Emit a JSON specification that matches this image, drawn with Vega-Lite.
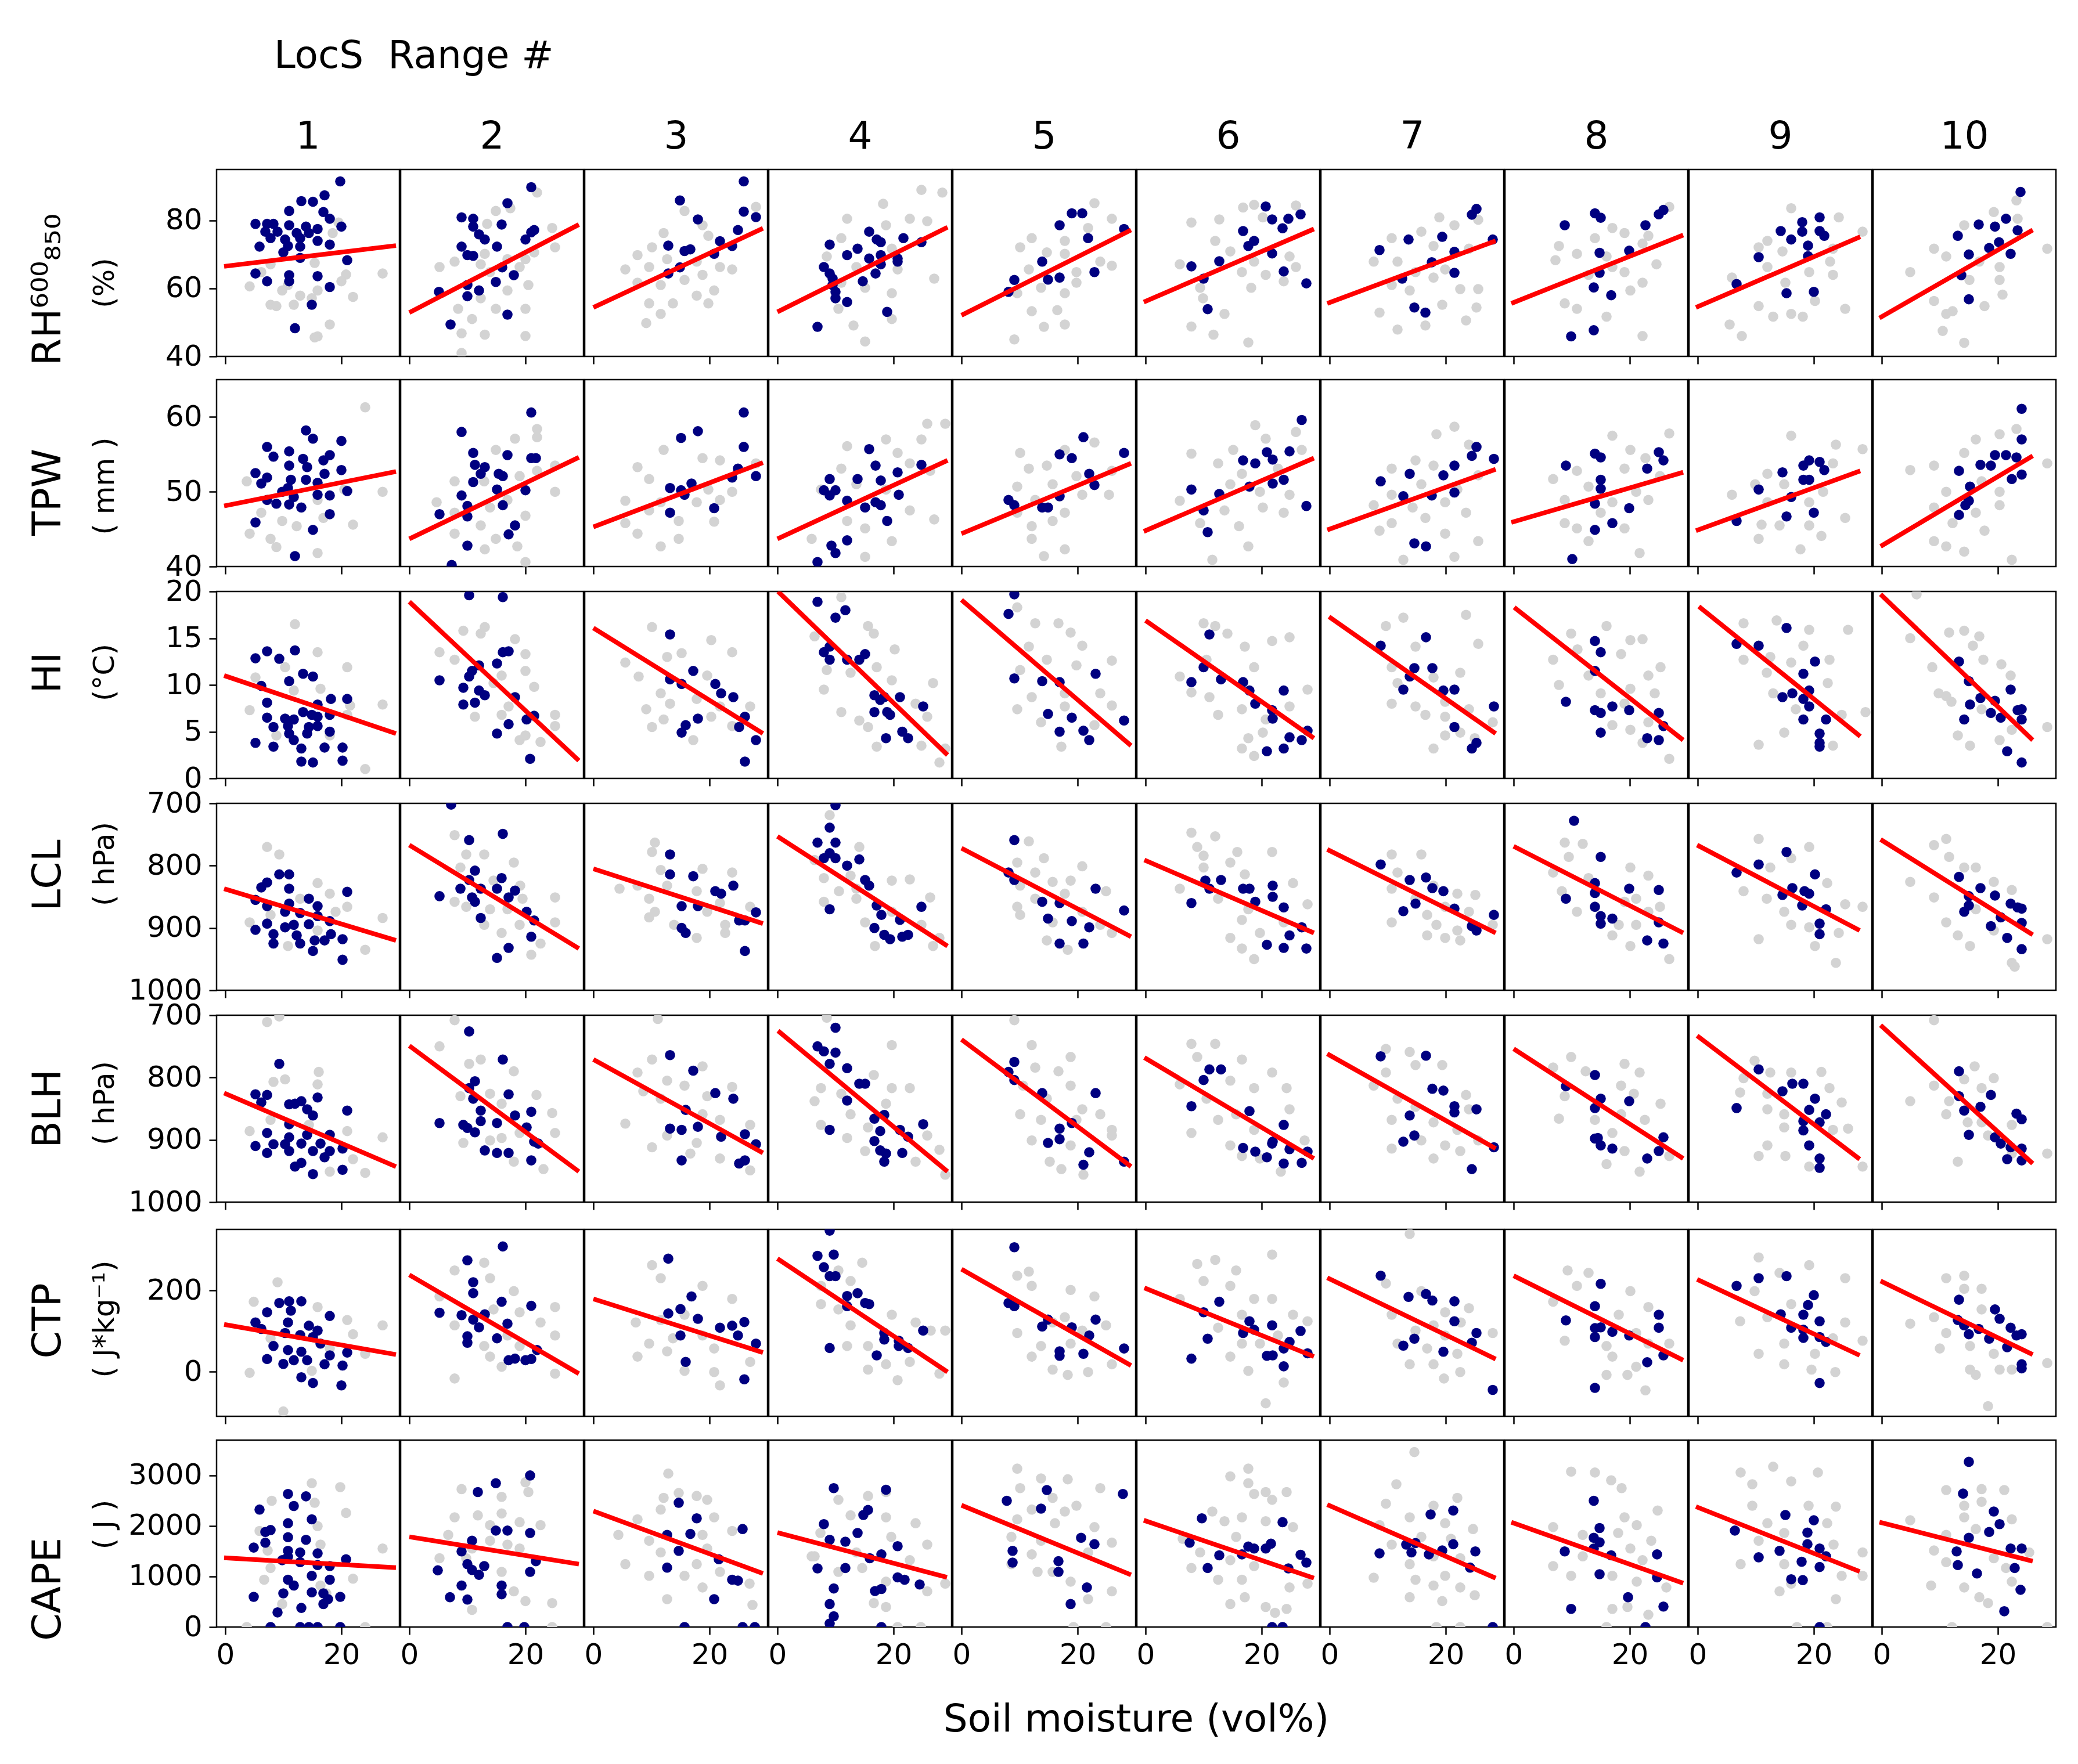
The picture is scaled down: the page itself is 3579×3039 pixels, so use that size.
{
"$schema":"https://vega.github.io/schema/vega-lite/v6.json",
"background":"white",
"padding":{"left":50,"top":64,"right":30,"bottom":30},
"title":{"text":"LocS\u00a0 Range #","anchor":"start","fontSize":66,"fontWeight":"normal","font":"DejaVu Sans","color":"black","dx":422,"offset":72},
"config":{
"font":"DejaVu Sans",
"view":{"stroke":"black","strokeWidth":2.5},
"axis":{"grid":false,"domain":false,"tickColor":"black","tickWidth":2.5,"tickSize":13,"labelFontSize":50,"labelColor":"black","labelPadding":10,"labelFont":"DejaVu Sans","titleFont":"DejaVu Sans","titleFontWeight":"normal","titleColor":"black","titleFontSize":50},
"axisY":{"titleAngle":-90,"titleBaseline":"alphabetic","titleAlign":"center","titleX":-178,"labelPadding":12},
"header":{"labelFontSize":66,"labelColor":"black","labelFont":"DejaVu Sans","titleFont":"DejaVu Sans","titleFontSize":66,"titleFontWeight":"normal","titleColor":"black"},
"title":{"fontWeight":"normal","color":"black","font":"DejaVu Sans"},
"point":{"filled":true,"size":310,"opacity":1},
"text":{"color":"#ff0000","fontSize":52,"align":"center","baseline":"middle","font":"DejaVu Sans"},
"line":{"color":"#ff0000","strokeWidth":8}
},
"spacing":13,
"datasets":{
"d1":[
{"c":1,"k":0,"x":4.2,"y":60.6},{"c":1,"k":0,"x":7.8,"y":55.2},{"c":1,"k":0,"x":8.8,"y":54.8},{"c":1,"k":0,"x":11.8,"y":55.2},{"c":1,"k":0,"x":14.9,"y":57.1},{"c":1,"k":0,"x":18,"y":49.4},{"c":1,"k":0,"x":15.9,"y":45.9},{"c":1,"k":0,"x":15.4,"y":45.6},{"c":1,"k":0,"x":22,"y":57.5},{"c":1,"k":0,"x":27.1,"y":64.4},{"c":1,"k":0,"x":20.8,"y":64.1},{"c":1,"k":0,"x":20,"y":62.1},{"c":1,"k":0,"x":10.8,"y":61},{"c":1,"k":0,"x":15.9,"y":59.4},{"c":1,"k":0,"x":7.8,"y":67.1},{"c":1,"k":0,"x":15.4,"y":67.5},{"c":1,"k":0,"x":19.5,"y":79.4},{"c":1,"k":0,"x":18.5,"y":76.3},{"c":1,"k":0,"x":9.8,"y":59.4},{"c":1,"k":0,"x":12.9,"y":57.9},{"c":1,"k":0,"x":6.2,"y":64.8},
{"c":1,"k":1,"x":19.8,"y":91.5},{"c":1,"k":1,"x":13.1,"y":85.7},{"c":1,"k":1,"x":15.1,"y":85.5},{"c":1,"k":1,"x":17.1,"y":87.4},{"c":1,"k":1,"x":11,"y":82.8},{"c":1,"k":1,"x":16.9,"y":82.5},{"c":1,"k":1,"x":18,"y":80.5},{"c":1,"k":1,"x":20,"y":78.2},{"c":1,"k":1,"x":5.2,"y":79},{"c":1,"k":1,"x":7.2,"y":79},{"c":1,"k":1,"x":8.3,"y":79},{"c":1,"k":1,"x":11,"y":78.6},{"c":1,"k":1,"x":13.9,"y":78.2},{"c":1,"k":1,"x":15.9,"y":77.5},{"c":1,"k":1,"x":6.9,"y":76.7},{"c":1,"k":1,"x":9,"y":76.7},{"c":1,"k":1,"x":12.3,"y":76.3},{"c":1,"k":1,"x":14.4,"y":76.3},{"c":1,"k":1,"x":7.8,"y":74.8},{"c":1,"k":1,"x":10.3,"y":74.4},{"c":1,"k":1,"x":12.9,"y":74.8},{"c":1,"k":1,"x":15.9,"y":74},{"c":1,"k":1,"x":5.9,"y":72.3},{"c":1,"k":1,"x":10.8,"y":72.5},{"c":1,"k":1,"x":12.9,"y":72.3},{"c":1,"k":1,"x":18,"y":72.9},{"c":1,"k":1,"x":10,"y":70.6},{"c":1,"k":1,"x":12.9,"y":69},{"c":1,"k":1,"x":21,"y":68.3},{"c":1,"k":1,"x":5.2,"y":64.4},{"c":1,"k":1,"x":7.2,"y":62.1},{"c":1,"k":1,"x":11,"y":63.9},{"c":1,"k":1,"x":15.9,"y":63.6},{"c":1,"k":1,"x":11,"y":62.1},{"c":1,"k":1,"x":18,"y":60.4},{"c":1,"k":1,"x":14.9,"y":55.2},{"c":1,"k":1,"x":12,"y":48.3},
{"c":1,"k":2,"x":-0.2,"y":66.5},{"c":1,"k":2,"x":29.4,"y":72.6},
{"c":2,"k":0,"x":22,"y":88.2},{"c":2,"k":0,"x":14.9,"y":82.8},{"c":2,"k":0,"x":17.4,"y":83.6},{"c":2,"k":0,"x":13.4,"y":79},{"c":2,"k":0,"x":24.6,"y":77.8},{"c":2,"k":0,"x":25.1,"y":72.1},{"c":2,"k":0,"x":21.5,"y":70.6},{"c":2,"k":0,"x":20,"y":68.6},{"c":2,"k":0,"x":16.9,"y":68.6},{"c":2,"k":0,"x":13,"y":70.2},{"c":2,"k":0,"x":12.3,"y":67.1},{"c":2,"k":0,"x":7.8,"y":67.9},{"c":2,"k":0,"x":5.2,"y":66.3},{"c":2,"k":0,"x":19,"y":66.3},{"c":2,"k":0,"x":13.9,"y":64.8},{"c":2,"k":0,"x":20.5,"y":61},{"c":2,"k":0,"x":16.9,"y":59.4},{"c":2,"k":0,"x":12.3,"y":57.1},{"c":2,"k":0,"x":8.4,"y":54},{"c":2,"k":0,"x":14.9,"y":54},{"c":2,"k":0,"x":20,"y":54},{"c":2,"k":0,"x":10.8,"y":51},{"c":2,"k":0,"x":13,"y":46.4},{"c":2,"k":0,"x":20,"y":46},{"c":2,"k":0,"x":9,"y":46.8},{"c":2,"k":0,"x":9,"y":41},
{"c":2,"k":1,"x":21,"y":89.8},{"c":2,"k":1,"x":16.9,"y":85.1},{"c":2,"k":1,"x":9,"y":80.9},{"c":2,"k":1,"x":11,"y":80.5},{"c":2,"k":1,"x":11,"y":78.2},{"c":2,"k":1,"x":15.9,"y":78.8},{"c":2,"k":1,"x":12,"y":75.9},{"c":2,"k":1,"x":13,"y":74.4},{"c":2,"k":1,"x":21.5,"y":77.2},{"c":2,"k":1,"x":21,"y":76.5},{"c":2,"k":1,"x":20,"y":74.4},{"c":2,"k":1,"x":9,"y":72.3},{"c":2,"k":1,"x":15.1,"y":72.3},{"c":2,"k":1,"x":10,"y":69.8},{"c":2,"k":1,"x":11,"y":69.6},{"c":2,"k":1,"x":16,"y":66.2},{"c":2,"k":1,"x":18,"y":63.9},{"c":2,"k":1,"x":14.9,"y":61.9},{"c":2,"k":1,"x":10,"y":61},{"c":2,"k":1,"x":12,"y":59.4},{"c":2,"k":1,"x":10,"y":57.7},{"c":2,"k":1,"x":5.1,"y":59},{"c":2,"k":1,"x":16.9,"y":52.3},{"c":2,"k":1,"x":7.1,"y":49.4},
{"c":2,"k":2,"x":0,"y":52.9},{"c":2,"k":2,"x":29.2,"y":78.8},
{"c":3,"k":0,"x":15.7,"y":82.8},{"c":3,"k":0,"x":28,"y":84},{"c":3,"k":0,"x":18.8,"y":78.6},{"c":3,"k":0,"x":12.1,"y":76.3},{"c":3,"k":0,"x":19.8,"y":75.5},{"c":3,"k":0,"x":10.1,"y":72.1},{"c":3,"k":0,"x":7.6,"y":69.8},{"c":3,"k":0,"x":5.5,"y":65.6},{"c":3,"k":0,"x":9.6,"y":66.3},{"c":3,"k":0,"x":12.7,"y":68.6},{"c":3,"k":0,"x":17.8,"y":67.9},{"c":3,"k":0,"x":21.8,"y":66.3},{"c":3,"k":0,"x":23.9,"y":65.6},{"c":3,"k":0,"x":18.8,"y":64},{"c":3,"k":0,"x":15.7,"y":62.5},{"c":3,"k":0,"x":11.6,"y":61},{"c":3,"k":0,"x":7.6,"y":61.7},{"c":3,"k":0,"x":20.8,"y":59.4},{"c":3,"k":0,"x":17.8,"y":57.9},{"c":3,"k":0,"x":13.7,"y":55.6},{"c":3,"k":0,"x":9.6,"y":55.6},{"c":3,"k":0,"x":11.6,"y":52.5},{"c":3,"k":0,"x":9.1,"y":49.8},{"c":3,"k":0,"x":19.8,"y":55.6},
{"c":3,"k":1,"x":25.9,"y":91.5},{"c":3,"k":1,"x":14.9,"y":85.9},{"c":3,"k":1,"x":25.9,"y":82.6},{"c":3,"k":1,"x":28,"y":81},{"c":3,"k":1,"x":18,"y":80.3},{"c":3,"k":1,"x":24.9,"y":77.2},{"c":3,"k":1,"x":21.8,"y":73.9},{"c":3,"k":1,"x":23.9,"y":72.5},{"c":3,"k":1,"x":12.9,"y":72.6},{"c":3,"k":1,"x":15.7,"y":71},{"c":3,"k":1,"x":16.7,"y":71.5},{"c":3,"k":1,"x":20.8,"y":70.2},{"c":3,"k":1,"x":14.9,"y":66.2},{"c":3,"k":1,"x":12.9,"y":64.4},
{"c":3,"k":2,"x":0,"y":54.4},{"c":3,"k":2,"x":29.2,"y":77.7},
{"c":4,"k":0,"x":24.8,"y":89},{"c":4,"k":0,"x":28.4,"y":88.2},{"c":4,"k":0,"x":18.2,"y":84.9},{"c":4,"k":0,"x":12,"y":80.5},{"c":4,"k":0,"x":22.8,"y":80.5},{"c":4,"k":0,"x":25.8,"y":79.8},{"c":4,"k":0,"x":18.7,"y":78.6},{"c":4,"k":0,"x":11,"y":74.8},{"c":4,"k":0,"x":19.7,"y":71.7},{"c":4,"k":0,"x":8.5,"y":69.4},{"c":4,"k":0,"x":13.6,"y":66.3},{"c":4,"k":0,"x":20.7,"y":65.6},{"c":4,"k":0,"x":27,"y":62.9},{"c":4,"k":0,"x":11,"y":61.7},{"c":4,"k":0,"x":15.1,"y":60.2},{"c":4,"k":0,"x":19.7,"y":58.6},{"c":4,"k":0,"x":10.5,"y":54},{"c":4,"k":0,"x":13.1,"y":49.1},{"c":4,"k":0,"x":19.7,"y":51},{"c":4,"k":0,"x":15.1,"y":44.4},
{"c":4,"k":1,"x":15.8,"y":76.7},{"c":4,"k":1,"x":17.1,"y":74.4},{"c":4,"k":1,"x":17.8,"y":73.6},{"c":4,"k":1,"x":21.7,"y":74.8},{"c":4,"k":1,"x":24.8,"y":73.6},{"c":4,"k":1,"x":9,"y":72.9},{"c":4,"k":1,"x":13.8,"y":71.7},{"c":4,"k":1,"x":12,"y":69.8},{"c":4,"k":1,"x":17.8,"y":69.8},{"c":4,"k":1,"x":15.8,"y":68.8},{"c":4,"k":1,"x":20.7,"y":68.8},{"c":4,"k":1,"x":20.7,"y":67.9},{"c":4,"k":1,"x":8,"y":66.3},{"c":4,"k":1,"x":17.8,"y":67.1},{"c":4,"k":1,"x":9,"y":64.4},{"c":4,"k":1,"x":16.9,"y":64.4},{"c":4,"k":1,"x":9.5,"y":62.9},{"c":4,"k":1,"x":14.7,"y":62.1},{"c":4,"k":1,"x":9.5,"y":61},{"c":4,"k":1,"x":10,"y":59},{"c":4,"k":1,"x":10,"y":57.1},{"c":4,"k":1,"x":12,"y":56},{"c":4,"k":1,"x":18.9,"y":53.1},{"c":4,"k":1,"x":6.9,"y":48.7},
{"c":4,"k":2,"x":0,"y":53.1},{"c":4,"k":2,"x":29.3,"y":78},
{"c":5,"k":0,"x":22.9,"y":85.1},{"c":5,"k":0,"x":25.9,"y":80.5},{"c":5,"k":0,"x":21.8,"y":77.8},{"c":5,"k":0,"x":12.1,"y":74.8},{"c":5,"k":0,"x":17.8,"y":74},{"c":5,"k":0,"x":10.1,"y":72.1},{"c":5,"k":0,"x":17.8,"y":70.2},{"c":5,"k":0,"x":14.7,"y":70.6},{"c":5,"k":0,"x":23.9,"y":67.9},{"c":5,"k":0,"x":25.9,"y":66.7},{"c":5,"k":0,"x":19.8,"y":64.8},{"c":5,"k":0,"x":11.6,"y":65.6},{"c":5,"k":0,"x":19.8,"y":61.7},{"c":5,"k":0,"x":13.7,"y":60.2},{"c":5,"k":0,"x":9.6,"y":58.6},{"c":5,"k":0,"x":17.8,"y":58.6},{"c":5,"k":0,"x":12.1,"y":53.3},{"c":5,"k":0,"x":16.5,"y":53.6},{"c":5,"k":0,"x":14.2,"y":48.7},{"c":5,"k":0,"x":9.1,"y":45},{"c":5,"k":0,"x":17.8,"y":49.4},
{"c":5,"k":1,"x":19,"y":82.1},{"c":5,"k":1,"x":20.8,"y":82.1},{"c":5,"k":1,"x":16.9,"y":78.6},{"c":5,"k":1,"x":28,"y":77.5},{"c":5,"k":1,"x":21.8,"y":74.8},{"c":5,"k":1,"x":13.9,"y":67.9},{"c":5,"k":1,"x":22.9,"y":64.8},{"c":5,"k":1,"x":9.1,"y":62.5},{"c":5,"k":1,"x":14.9,"y":62.6},{"c":5,"k":1,"x":16.9,"y":63.2},{"c":5,"k":1,"x":8.1,"y":59},
{"c":5,"k":2,"x":0,"y":52.1},{"c":5,"k":2,"x":29.2,"y":77.2},
{"c":6,"k":0,"x":7.9,"y":79.4},{"c":6,"k":0,"x":12.7,"y":80.3},{"c":6,"k":0,"x":16.8,"y":83.8},{"c":6,"k":0,"x":18.7,"y":84.6},{"c":6,"k":0,"x":25.9,"y":84.4},{"c":6,"k":0,"x":20.2,"y":80.9},{"c":6,"k":0,"x":12,"y":74},{"c":6,"k":0,"x":14.6,"y":70.9},{"c":6,"k":0,"x":5.9,"y":67.1},{"c":6,"k":0,"x":18.7,"y":67.9},{"c":6,"k":0,"x":24.8,"y":69.4},{"c":6,"k":0,"x":25.9,"y":66.3},{"c":6,"k":0,"x":20.7,"y":64},{"c":6,"k":0,"x":16.6,"y":64.8},{"c":6,"k":0,"x":9.4,"y":60.2},{"c":6,"k":0,"x":18.2,"y":60.2},{"c":6,"k":0,"x":23.8,"y":62.1},{"c":6,"k":0,"x":9.9,"y":57.1},{"c":6,"k":0,"x":13.6,"y":52.5},{"c":6,"k":0,"x":7.9,"y":48.8},{"c":6,"k":0,"x":11.7,"y":46.4},{"c":6,"k":0,"x":17.7,"y":44.1},
{"c":6,"k":1,"x":20.7,"y":84.1},{"c":6,"k":1,"x":21.8,"y":80.3},{"c":6,"k":1,"x":24.6,"y":80.5},{"c":6,"k":1,"x":26.7,"y":81.8},{"c":6,"k":1,"x":23.6,"y":77.7},{"c":6,"k":1,"x":16.8,"y":76.9},{"c":6,"k":1,"x":18.7,"y":74},{"c":6,"k":1,"x":17.7,"y":72.5},{"c":6,"k":1,"x":21.8,"y":70.3},{"c":6,"k":1,"x":12.7,"y":68},{"c":6,"k":1,"x":7.9,"y":66.5},{"c":6,"k":1,"x":23.8,"y":65},{"c":6,"k":1,"x":10,"y":62.9},{"c":6,"k":1,"x":27.7,"y":61.5},{"c":6,"k":1,"x":10.7,"y":53.9},
{"c":6,"k":2,"x":-0.3,"y":56},{"c":6,"k":2,"x":29,"y":77.5},
{"c":7,"k":0,"x":18.9,"y":80.9},{"c":7,"k":0,"x":21.5,"y":78.6},{"c":7,"k":0,"x":25.6,"y":80.2},{"c":7,"k":0,"x":15.8,"y":76.7},{"c":7,"k":0,"x":10.7,"y":74.8},{"c":7,"k":0,"x":17.9,"y":72.5},{"c":7,"k":0,"x":24,"y":71.7},{"c":7,"k":0,"x":7.6,"y":67.9},{"c":7,"k":0,"x":11.7,"y":67.9},{"c":7,"k":0,"x":19.9,"y":65.6},{"c":7,"k":0,"x":14.8,"y":64.8},{"c":7,"k":0,"x":17.9,"y":63.2},{"c":7,"k":0,"x":22.5,"y":59.8},{"c":7,"k":0,"x":25.6,"y":59.8},{"c":7,"k":0,"x":10.7,"y":61},{"c":7,"k":0,"x":13.8,"y":59.4},{"c":7,"k":0,"x":19.4,"y":55.2},{"c":7,"k":0,"x":8.6,"y":52.9},{"c":7,"k":0,"x":11.7,"y":47.9},{"c":7,"k":0,"x":16.5,"y":49.1},{"c":7,"k":0,"x":23.5,"y":50.6},{"c":7,"k":0,"x":25.3,"y":54.4},
{"c":7,"k":1,"x":25.3,"y":83.4},{"c":7,"k":1,"x":24.5,"y":81.7},{"c":7,"k":1,"x":28.1,"y":74.4},{"c":7,"k":1,"x":19.4,"y":75.2},{"c":7,"k":1,"x":13.6,"y":74.4},{"c":7,"k":1,"x":8.6,"y":71.3},{"c":7,"k":1,"x":21.5,"y":70.8},{"c":7,"k":1,"x":17.6,"y":67.7},{"c":7,"k":1,"x":12.5,"y":62.9},{"c":7,"k":1,"x":21.5,"y":64.6},{"c":7,"k":1,"x":14.6,"y":54.4},{"c":7,"k":1,"x":16.5,"y":52.9},
{"c":7,"k":2,"x":-0.4,"y":55.6},{"c":7,"k":2,"x":28.6,"y":74},
{"c":8,"k":0,"x":26.8,"y":84},{"c":8,"k":0,"x":23.2,"y":75.5},{"c":8,"k":0,"x":17,"y":77.8},{"c":8,"k":0,"x":19.1,"y":76.3},{"c":8,"k":0,"x":14,"y":74.8},{"c":8,"k":0,"x":7.8,"y":72.5},{"c":8,"k":0,"x":10.9,"y":70.2},{"c":8,"k":0,"x":16,"y":69.4},{"c":8,"k":0,"x":22.2,"y":73.2},{"c":8,"k":0,"x":24.6,"y":67.1},{"c":8,"k":0,"x":7.2,"y":68.3},{"c":8,"k":0,"x":12.9,"y":64},{"c":8,"k":0,"x":19.1,"y":64.8},{"c":8,"k":0,"x":22.2,"y":61.7},{"c":8,"k":0,"x":8.8,"y":55.6},{"c":8,"k":0,"x":10.9,"y":54},{"c":8,"k":0,"x":16,"y":51.7},{"c":8,"k":0,"x":22.2,"y":46},{"c":8,"k":0,"x":20.1,"y":59.4},{"c":8,"k":0,"x":17,"y":66.3},
{"c":8,"k":1,"x":25.8,"y":83.1},{"c":8,"k":1,"x":25,"y":81.8},{"c":8,"k":1,"x":14,"y":82.1},{"c":8,"k":1,"x":15,"y":80.8},{"c":8,"k":1,"x":8.8,"y":78.6},{"c":8,"k":1,"x":22.7,"y":78.6},{"c":8,"k":1,"x":19.9,"y":71.1},{"c":8,"k":1,"x":14.8,"y":70.5},{"c":8,"k":1,"x":14.8,"y":64.6},{"c":8,"k":1,"x":13.8,"y":60.3},{"c":8,"k":1,"x":16.8,"y":58},{"c":8,"k":1,"x":13.8,"y":47.7},{"c":8,"k":1,"x":9.9,"y":45.9},
{"c":8,"k":2,"x":-0.4,"y":55.6},{"c":8,"k":2,"x":29.2,"y":75.7},
{"c":9,"k":0,"x":16.1,"y":83.6},{"c":9,"k":0,"x":24.3,"y":80.9},{"c":9,"k":0,"x":28.4,"y":76.7},{"c":9,"k":0,"x":12,"y":74},{"c":9,"k":0,"x":10.5,"y":72.1},{"c":9,"k":0,"x":14.6,"y":70.9},{"c":9,"k":0,"x":23.3,"y":71.7},{"c":9,"k":0,"x":22.8,"y":67.9},{"c":9,"k":0,"x":12,"y":66.3},{"c":9,"k":0,"x":19.2,"y":64.8},{"c":9,"k":0,"x":5.9,"y":63.2},{"c":9,"k":0,"x":23.3,"y":64},{"c":9,"k":0,"x":15.1,"y":61.7},{"c":9,"k":0,"x":10.5,"y":54.8},{"c":9,"k":0,"x":13,"y":51.7},{"c":9,"k":0,"x":16.1,"y":52.5},{"c":9,"k":0,"x":18.1,"y":51.7},{"c":9,"k":0,"x":25.4,"y":54},{"c":9,"k":0,"x":5.5,"y":49.4},{"c":9,"k":0,"x":7.6,"y":46},{"c":9,"k":0,"x":20.2,"y":56.3},
{"c":9,"k":1,"x":21,"y":80.9},{"c":9,"k":1,"x":18,"y":79.5},{"c":9,"k":1,"x":14.3,"y":76.9},{"c":9,"k":1,"x":21,"y":76.9},{"c":9,"k":1,"x":18,"y":76.7},{"c":9,"k":1,"x":21.8,"y":75.5},{"c":9,"k":1,"x":16.1,"y":74.4},{"c":9,"k":1,"x":19,"y":72.6},{"c":9,"k":1,"x":10.5,"y":69.2},{"c":9,"k":1,"x":19,"y":69.5},{"c":9,"k":1,"x":6.7,"y":61.3},{"c":9,"k":1,"x":15.3,"y":58.6},{"c":9,"k":1,"x":20,"y":59},
{"c":9,"k":2,"x":-0.3,"y":54.4},{"c":9,"k":2,"x":28,"y":75.2},
{"c":10,"k":0,"x":23.2,"y":85.9},{"c":10,"k":0,"x":19.3,"y":82.5},{"c":10,"k":0,"x":23.4,"y":80.5},{"c":10,"k":0,"x":14.2,"y":78.6},{"c":10,"k":0,"x":9,"y":71.7},{"c":10,"k":0,"x":4.9,"y":64.8},{"c":10,"k":0,"x":11.1,"y":69.4},{"c":10,"k":0,"x":16.8,"y":67.9},{"c":10,"k":0,"x":20.3,"y":66.3},{"c":10,"k":0,"x":28.5,"y":71.7},{"c":10,"k":0,"x":15.1,"y":62.5},{"c":10,"k":0,"x":20.3,"y":62.5},{"c":10,"k":0,"x":9,"y":56.3},{"c":10,"k":0,"x":12.2,"y":53.3},{"c":10,"k":0,"x":17.7,"y":54.8},{"c":10,"k":0,"x":10.5,"y":47.5},{"c":10,"k":0,"x":14.2,"y":44},{"c":10,"k":0,"x":20.8,"y":58.2},{"c":10,"k":0,"x":11.1,"y":52.5},
{"c":10,"k":1,"x":23.9,"y":88.4},{"c":10,"k":1,"x":21.4,"y":80.5},{"c":10,"k":1,"x":16.7,"y":78.8},{"c":10,"k":1,"x":19.5,"y":78.2},{"c":10,"k":1,"x":13.1,"y":75.5},{"c":10,"k":1,"x":20.2,"y":73.6},{"c":10,"k":1,"x":23.4,"y":77.1},{"c":10,"k":1,"x":22.2,"y":70.2},{"c":10,"k":1,"x":18.5,"y":71.9},{"c":10,"k":1,"x":15,"y":70},{"c":10,"k":1,"x":13.7,"y":63.9},{"c":10,"k":1,"x":15,"y":56.8},
{"c":10,"k":2,"x":-0.4,"y":51.3},{"c":10,"k":2,"x":26,"y":77.2},
{"c":1,"k":3,"t":"R=0.07"},{"c":2,"k":3,"t":"R=0.42"},{"c":3,"k":3,"t":"R=0.48"},{"c":4,"k":3,"t":"R=0.47"},{"c":5,"k":3,"t":"R=0.51"},{"c":6,"k":3,"t":"R=0.4"},{"c":7,"k":3,"t":"R=0.35"},{"c":8,"k":3,"t":"R=0.43"},{"c":9,"k":3,"t":"R=0.37"},{"c":10,"k":3,"t":"R=0.44"}
],
"d2":[
{"c":1,"k":0,"x":24.1,"y":61.3},{"c":1,"k":0,"x":4.2,"y":44.4},{"c":1,"k":0,"x":7.8,"y":43.7},{"c":1,"k":0,"x":8.8,"y":42.6},{"c":1,"k":0,"x":15.9,"y":41.8},{"c":1,"k":0,"x":22,"y":45.6},{"c":1,"k":0,"x":27.1,"y":50},{"c":1,"k":0,"x":20.5,"y":50.3},{"c":1,"k":0,"x":9.8,"y":46.1},{"c":1,"k":0,"x":12.3,"y":45.4},{"c":1,"k":0,"x":15.9,"y":48.9},{"c":1,"k":0,"x":3.7,"y":51.4},{"c":1,"k":0,"x":6.2,"y":47.2},{"c":1,"k":0,"x":16.9,"y":46.5},
{"c":1,"k":1,"x":13.9,"y":58.2},{"c":1,"k":1,"x":15.1,"y":57.1},{"c":1,"k":1,"x":20,"y":56.8},{"c":1,"k":1,"x":7.2,"y":56},{"c":1,"k":1,"x":11,"y":55.4},{"c":1,"k":1,"x":18,"y":54.9},{"c":1,"k":1,"x":8.3,"y":54.7},{"c":1,"k":1,"x":13.4,"y":54.4},{"c":1,"k":1,"x":16.9,"y":54.2},{"c":1,"k":1,"x":11,"y":53.5},{"c":1,"k":1,"x":14.1,"y":53.3},{"c":1,"k":1,"x":20,"y":52.9},{"c":1,"k":1,"x":5.2,"y":52.5},{"c":1,"k":1,"x":17.1,"y":52.4},{"c":1,"k":1,"x":7.2,"y":51.9},{"c":1,"k":1,"x":11.3,"y":51.6},{"c":1,"k":1,"x":13.9,"y":51.6},{"c":1,"k":1,"x":6.2,"y":51.1},{"c":1,"k":1,"x":15.9,"y":51.2},{"c":1,"k":1,"x":10.8,"y":50.5},{"c":1,"k":1,"x":9.8,"y":50},{"c":1,"k":1,"x":21,"y":50.1},{"c":1,"k":1,"x":11.8,"y":49.3},{"c":1,"k":1,"x":15.9,"y":49.6},{"c":1,"k":1,"x":18,"y":49.5},{"c":1,"k":1,"x":7.2,"y":48.9},{"c":1,"k":1,"x":8.8,"y":48.4},{"c":1,"k":1,"x":11,"y":48.3},{"c":1,"k":1,"x":13.1,"y":47.9},{"c":1,"k":1,"x":18,"y":47},{"c":1,"k":1,"x":5.2,"y":45.9},{"c":1,"k":1,"x":15.1,"y":44.9},{"c":1,"k":1,"x":12,"y":41.4},
{"c":1,"k":2,"x":-0.2,"y":48.1},{"c":1,"k":2,"x":29.4,"y":52.7},
{"c":2,"k":0,"x":22,"y":58.4},{"c":2,"k":0,"x":22,"y":57.3},{"c":2,"k":0,"x":18.2,"y":57.1},{"c":2,"k":0,"x":14.9,"y":55.6},{"c":2,"k":0,"x":25.1,"y":53.5},{"c":2,"k":0,"x":22,"y":52.8},{"c":2,"k":0,"x":19,"y":52.1},{"c":2,"k":0,"x":12.9,"y":51.4},{"c":2,"k":0,"x":7.8,"y":51.4},{"c":2,"k":0,"x":4.7,"y":48.6},{"c":2,"k":0,"x":25.1,"y":50},{"c":2,"k":0,"x":16.9,"y":48.9},{"c":2,"k":0,"x":13.9,"y":47.9},{"c":2,"k":0,"x":7.8,"y":47.2},{"c":2,"k":0,"x":20,"y":46.8},{"c":2,"k":0,"x":12.3,"y":45.5},{"c":2,"k":0,"x":7.8,"y":44.4},{"c":2,"k":0,"x":14.9,"y":43.7},{"c":2,"k":0,"x":18.6,"y":42.7},{"c":2,"k":0,"x":13,"y":42.3},{"c":2,"k":0,"x":20,"y":40.6},
{"c":2,"k":1,"x":21,"y":60.6},{"c":2,"k":1,"x":9,"y":58},{"c":2,"k":1,"x":11,"y":55.2},{"c":2,"k":1,"x":13,"y":53.3},{"c":2,"k":1,"x":11.3,"y":53.6},{"c":2,"k":1,"x":16.9,"y":54.9},{"c":2,"k":1,"x":21,"y":54.5},{"c":2,"k":1,"x":21.8,"y":54.5},{"c":2,"k":1,"x":12.3,"y":52.4},{"c":2,"k":1,"x":15.4,"y":52.4},{"c":2,"k":1,"x":16.1,"y":52.1},{"c":2,"k":1,"x":11,"y":51.3},{"c":2,"k":1,"x":15.1,"y":50.3},{"c":2,"k":1,"x":20,"y":50.2},{"c":2,"k":1,"x":9,"y":49.5},{"c":2,"k":1,"x":10,"y":48.1},{"c":2,"k":1,"x":16.1,"y":48.2},{"c":2,"k":1,"x":5.2,"y":47},{"c":2,"k":1,"x":10,"y":46.7},{"c":2,"k":1,"x":18.2,"y":45.5},{"c":2,"k":1,"x":17.1,"y":44.3},{"c":2,"k":1,"x":10,"y":42.8},{"c":2,"k":1,"x":7.3,"y":40.2},
{"c":2,"k":2,"x":0,"y":43.7},{"c":2,"k":2,"x":29.2,"y":54.6},
{"c":3,"k":0,"x":28,"y":53.8},{"c":3,"k":0,"x":21.8,"y":54.2},{"c":3,"k":0,"x":18.8,"y":54.5},{"c":3,"k":0,"x":12.1,"y":55.6},{"c":3,"k":0,"x":7.6,"y":53.3},{"c":3,"k":0,"x":9.6,"y":51.7},{"c":3,"k":0,"x":5.5,"y":48.8},{"c":3,"k":0,"x":11.6,"y":48.6},{"c":3,"k":0,"x":19.8,"y":50.3},{"c":3,"k":0,"x":23.9,"y":50},{"c":3,"k":0,"x":17.8,"y":48.6},{"c":3,"k":0,"x":20.8,"y":46},{"c":3,"k":0,"x":14.7,"y":46.1},{"c":3,"k":0,"x":9.6,"y":47.5},{"c":3,"k":0,"x":7.6,"y":44.4},{"c":3,"k":0,"x":14.7,"y":43.7},{"c":3,"k":0,"x":11.6,"y":42.7},{"c":3,"k":0,"x":21.8,"y":48.9},{"c":3,"k":0,"x":5.5,"y":45.8},
{"c":3,"k":1,"x":25.9,"y":60.6},{"c":3,"k":1,"x":18,"y":58.1},{"c":3,"k":1,"x":15.1,"y":57.2},{"c":3,"k":1,"x":25.9,"y":56},{"c":3,"k":1,"x":24.9,"y":53.1},{"c":3,"k":1,"x":28,"y":52.1},{"c":3,"k":1,"x":23.9,"y":51.9},{"c":3,"k":1,"x":16.9,"y":51.1},{"c":3,"k":1,"x":13.2,"y":50.5},{"c":3,"k":1,"x":15.1,"y":50.2},{"c":3,"k":1,"x":15.7,"y":49.6},{"c":3,"k":1,"x":20.8,"y":47.8},{"c":3,"k":1,"x":13.2,"y":47.2},
{"c":3,"k":2,"x":0,"y":45.3},{"c":3,"k":2,"x":29.2,"y":53.9},
{"c":4,"k":0,"x":25.8,"y":59.1},{"c":4,"k":0,"x":28.9,"y":59.1},{"c":4,"k":0,"x":18.7,"y":57},{"c":4,"k":0,"x":24.8,"y":57},{"c":4,"k":0,"x":12,"y":56.1},{"c":4,"k":0,"x":20.7,"y":55.2},{"c":4,"k":0,"x":22.8,"y":53.8},{"c":4,"k":0,"x":26.3,"y":52.8},{"c":4,"k":0,"x":11,"y":53.1},{"c":4,"k":0,"x":13.6,"y":51},{"c":4,"k":0,"x":7.5,"y":50.3},{"c":4,"k":0,"x":18.7,"y":50.3},{"c":4,"k":0,"x":22.8,"y":47.5},{"c":4,"k":0,"x":27,"y":46.3},{"c":4,"k":0,"x":12,"y":46.1},{"c":4,"k":0,"x":5.9,"y":43.7},{"c":4,"k":0,"x":15.1,"y":45.1},{"c":4,"k":0,"x":19.7,"y":43.4},{"c":4,"k":0,"x":15.1,"y":41.3},
{"c":4,"k":1,"x":15.8,"y":55.7},{"c":4,"k":1,"x":16.9,"y":53.5},{"c":4,"k":1,"x":20.7,"y":52.6},{"c":4,"k":1,"x":24.8,"y":53.6},{"c":4,"k":1,"x":9,"y":51.7},{"c":4,"k":1,"x":13.8,"y":51.7},{"c":4,"k":1,"x":17.8,"y":51.5},{"c":4,"k":1,"x":8,"y":50.2},{"c":4,"k":1,"x":10,"y":50.2},{"c":4,"k":1,"x":12,"y":48.8},{"c":4,"k":1,"x":20.9,"y":49.6},{"c":4,"k":1,"x":16.9,"y":48.6},{"c":4,"k":1,"x":15.1,"y":47.9},{"c":4,"k":1,"x":17.8,"y":48.2},{"c":4,"k":1,"x":18.9,"y":46.1},{"c":4,"k":1,"x":9,"y":49.5},{"c":4,"k":1,"x":12,"y":43.5},{"c":4,"k":1,"x":9.3,"y":42.8},{"c":4,"k":1,"x":10,"y":41.8},{"c":4,"k":1,"x":6.9,"y":40.6},
{"c":4,"k":2,"x":0,"y":43.7},{"c":4,"k":2,"x":29.3,"y":54.2},
{"c":5,"k":0,"x":22.9,"y":56.6},{"c":5,"k":0,"x":10.1,"y":55.2},{"c":5,"k":0,"x":17.8,"y":55.6},{"c":5,"k":0,"x":14.7,"y":53.5},{"c":5,"k":0,"x":25.9,"y":52.8},{"c":5,"k":0,"x":11.6,"y":53.1},{"c":5,"k":0,"x":19.8,"y":52.1},{"c":5,"k":0,"x":9.6,"y":50.7},{"c":5,"k":0,"x":15.7,"y":51},{"c":5,"k":0,"x":20.8,"y":49.6},{"c":5,"k":0,"x":12.7,"y":48.9},{"c":5,"k":0,"x":17.8,"y":47.2},{"c":5,"k":0,"x":12.1,"y":45.4},{"c":5,"k":0,"x":9.6,"y":47.2},{"c":5,"k":0,"x":15.7,"y":46.1},{"c":5,"k":0,"x":17.8,"y":42.3},{"c":5,"k":0,"x":12.1,"y":43.7},{"c":5,"k":0,"x":14.2,"y":41.4},{"c":5,"k":0,"x":25.4,"y":49.6},
{"c":5,"k":1,"x":21,"y":57.3},{"c":5,"k":1,"x":16.9,"y":55},{"c":5,"k":1,"x":19,"y":54.5},{"c":5,"k":1,"x":28,"y":55.2},{"c":5,"k":1,"x":22,"y":52.4},{"c":5,"k":1,"x":22.9,"y":50.9},{"c":5,"k":1,"x":16.9,"y":49.4},{"c":5,"k":1,"x":8.1,"y":48.9},{"c":5,"k":1,"x":9.1,"y":48.2},{"c":5,"k":1,"x":14.9,"y":47.9},{"c":5,"k":1,"x":13.9,"y":47.9},
{"c":5,"k":2,"x":0,"y":44.4},{"c":5,"k":2,"x":29.2,"y":53.8},
{"c":6,"k":0,"x":18.9,"y":58.9},{"c":6,"k":0,"x":25.9,"y":58},{"c":6,"k":0,"x":20.7,"y":57.1},{"c":6,"k":0,"x":15.1,"y":55.6},{"c":6,"k":0,"x":26.9,"y":55.6},{"c":6,"k":0,"x":12.5,"y":53.8},{"c":6,"k":0,"x":7.9,"y":55.1},{"c":6,"k":0,"x":22.8,"y":53.1},{"c":6,"k":0,"x":16.6,"y":52.4},{"c":6,"k":0,"x":19.7,"y":50},{"c":6,"k":0,"x":14.6,"y":51},{"c":6,"k":0,"x":24.8,"y":49.6},{"c":6,"k":0,"x":5.9,"y":48.8},{"c":6,"k":0,"x":13.6,"y":47.5},{"c":6,"k":0,"x":9.4,"y":45.8},{"c":6,"k":0,"x":20.2,"y":47.9},{"c":6,"k":0,"x":23.8,"y":47.2},{"c":6,"k":0,"x":17.7,"y":42.7},{"c":6,"k":0,"x":11.5,"y":40.9},{"c":6,"k":0,"x":16.1,"y":45.4},
{"c":6,"k":1,"x":26.9,"y":59.6},{"c":6,"k":1,"x":20.9,"y":55.3},{"c":6,"k":1,"x":16.8,"y":54.2},{"c":6,"k":1,"x":18.9,"y":53.8},{"c":6,"k":1,"x":21.9,"y":54.3},{"c":6,"k":1,"x":24.8,"y":55.4},{"c":6,"k":1,"x":23.8,"y":51.6},{"c":6,"k":1,"x":21.9,"y":51.1},{"c":6,"k":1,"x":17.9,"y":50.7},{"c":6,"k":1,"x":7.9,"y":50.3},{"c":6,"k":1,"x":12.7,"y":49.7},{"c":6,"k":1,"x":10,"y":47.5},{"c":6,"k":1,"x":27.7,"y":48.1},{"c":6,"k":1,"x":10.7,"y":44.6},
{"c":6,"k":2,"x":-0.3,"y":44.7},{"c":6,"k":2,"x":29,"y":54.5},
{"c":7,"k":0,"x":21.5,"y":58.7},{"c":7,"k":0,"x":18.4,"y":57.7},{"c":7,"k":0,"x":24,"y":56.3},{"c":7,"k":0,"x":14.8,"y":54.2},{"c":7,"k":0,"x":17.9,"y":53.5},{"c":7,"k":0,"x":10.7,"y":53.1},{"c":7,"k":0,"x":25.6,"y":52.2},{"c":7,"k":0,"x":15.8,"y":51},{"c":7,"k":0,"x":22,"y":50.3},{"c":7,"k":0,"x":10.7,"y":49.6},{"c":7,"k":0,"x":7.6,"y":48.2},{"c":7,"k":0,"x":19.9,"y":48.6},{"c":7,"k":0,"x":14.3,"y":47.9},{"c":7,"k":0,"x":23.5,"y":47.2},{"c":7,"k":0,"x":10.7,"y":45.8},{"c":7,"k":0,"x":16.5,"y":46.5},{"c":7,"k":0,"x":8.6,"y":44.8},{"c":7,"k":0,"x":19.9,"y":44.4},{"c":7,"k":0,"x":25.6,"y":43.4},{"c":7,"k":0,"x":12.7,"y":40.9},{"c":7,"k":0,"x":21.5,"y":41.3},
{"c":7,"k":1,"x":25.3,"y":56},{"c":7,"k":1,"x":24.5,"y":54.8},{"c":7,"k":1,"x":28.3,"y":54.4},{"c":7,"k":1,"x":21.5,"y":53.5},{"c":7,"k":1,"x":13.8,"y":52.4},{"c":7,"k":1,"x":19.6,"y":52.2},{"c":7,"k":1,"x":8.8,"y":51.4},{"c":7,"k":1,"x":21.5,"y":49.9},{"c":7,"k":1,"x":12.7,"y":49.4},{"c":7,"k":1,"x":17.6,"y":49.5},{"c":7,"k":1,"x":14.6,"y":43.1},{"c":7,"k":1,"x":16.6,"y":42.7},
{"c":7,"k":2,"x":-0.4,"y":44.9},{"c":7,"k":2,"x":28.6,"y":53},
{"c":8,"k":0,"x":26.8,"y":57.8},{"c":8,"k":0,"x":17,"y":57.5},{"c":8,"k":0,"x":20.1,"y":55.6},{"c":8,"k":0,"x":22.7,"y":54.5},{"c":8,"k":0,"x":25.2,"y":52.1},{"c":8,"k":0,"x":6.8,"y":51.7},{"c":8,"k":0,"x":10.9,"y":52.8},{"c":8,"k":0,"x":19.1,"y":53.1},{"c":8,"k":0,"x":12.9,"y":50.7},{"c":8,"k":0,"x":21.1,"y":50},{"c":8,"k":0,"x":8.8,"y":48.9},{"c":8,"k":0,"x":17,"y":48.6},{"c":8,"k":0,"x":23.2,"y":48.9},{"c":8,"k":0,"x":15,"y":47.2},{"c":8,"k":0,"x":10.9,"y":45.1},{"c":8,"k":0,"x":19.1,"y":45.1},{"c":8,"k":0,"x":12.9,"y":43.4},{"c":8,"k":0,"x":21.7,"y":41.8},{"c":8,"k":0,"x":8.8,"y":45.8},
{"c":8,"k":1,"x":25,"y":55.3},{"c":8,"k":1,"x":25.8,"y":54.2},{"c":8,"k":1,"x":14,"y":55.1},{"c":8,"k":1,"x":15,"y":54.6},{"c":8,"k":1,"x":9,"y":53.5},{"c":8,"k":1,"x":23,"y":53.1},{"c":8,"k":1,"x":15,"y":51.6},{"c":8,"k":1,"x":15,"y":50.4},{"c":8,"k":1,"x":14,"y":48.4},{"c":8,"k":1,"x":19.9,"y":47.8},{"c":8,"k":1,"x":17,"y":45.8},{"c":8,"k":1,"x":14,"y":44.9},{"c":8,"k":1,"x":10.1,"y":41},
{"c":8,"k":2,"x":-0.4,"y":45.9},{"c":8,"k":2,"x":29.2,"y":52.6},
{"c":9,"k":0,"x":16.1,"y":57.5},{"c":9,"k":0,"x":23.8,"y":56.3},{"c":9,"k":0,"x":28.4,"y":55.7},{"c":9,"k":0,"x":12,"y":52.4},{"c":9,"k":0,"x":23.3,"y":53.8},{"c":9,"k":0,"x":9.9,"y":51},{"c":9,"k":0,"x":14.9,"y":51},{"c":9,"k":0,"x":21.6,"y":50},{"c":9,"k":0,"x":5.9,"y":49.6},{"c":9,"k":0,"x":12,"y":48.6},{"c":9,"k":0,"x":19.2,"y":48.6},{"c":9,"k":0,"x":14.1,"y":45.5},{"c":9,"k":0,"x":11,"y":45.6},{"c":9,"k":0,"x":19.2,"y":45.5},{"c":9,"k":0,"x":25.4,"y":46.5},{"c":9,"k":0,"x":10.5,"y":43.7},{"c":9,"k":0,"x":17.7,"y":42.3},{"c":9,"k":0,"x":21.3,"y":44.1},
{"c":9,"k":1,"x":19.2,"y":54.2},{"c":9,"k":1,"x":21,"y":54},{"c":9,"k":1,"x":21.8,"y":52.9},{"c":9,"k":1,"x":18.2,"y":53.5},{"c":9,"k":1,"x":18.2,"y":51.6},{"c":9,"k":1,"x":19.2,"y":51.6},{"c":9,"k":1,"x":14.6,"y":52.6},{"c":9,"k":1,"x":10.5,"y":50.3},{"c":9,"k":1,"x":16.1,"y":49.3},{"c":9,"k":1,"x":6.7,"y":46.1},{"c":9,"k":1,"x":15.3,"y":46.7},{"c":9,"k":1,"x":20,"y":47.2},
{"c":9,"k":2,"x":-0.3,"y":44.8},{"c":9,"k":2,"x":28,"y":52.8},
{"c":10,"k":0,"x":23.2,"y":58.4},{"c":10,"k":0,"x":16.2,"y":57},{"c":10,"k":0,"x":20.3,"y":57.7},{"c":10,"k":0,"x":9,"y":53.5},{"c":10,"k":0,"x":4.9,"y":52.9},{"c":10,"k":0,"x":14.2,"y":55.2},{"c":10,"k":0,"x":28.5,"y":53.8},{"c":10,"k":0,"x":17.2,"y":51.4},{"c":10,"k":0,"x":11.1,"y":50},{"c":10,"k":0,"x":20.3,"y":50},{"c":10,"k":0,"x":9,"y":47.9},{"c":10,"k":0,"x":16.2,"y":47.2},{"c":10,"k":0,"x":20.3,"y":48.2},{"c":10,"k":0,"x":12.2,"y":45.8},{"c":10,"k":0,"x":17.7,"y":44.8},{"c":10,"k":0,"x":9,"y":43.4},{"c":10,"k":0,"x":14.2,"y":42},{"c":10,"k":0,"x":22.4,"y":40.9},{"c":10,"k":0,"x":11.1,"y":42.7},
{"c":10,"k":1,"x":24.1,"y":61.1},{"c":10,"k":1,"x":24.1,"y":57},{"c":10,"k":1,"x":19.5,"y":54.9},{"c":10,"k":1,"x":21.4,"y":54.9},{"c":10,"k":1,"x":23.2,"y":54.6},{"c":10,"k":1,"x":17,"y":53.6},{"c":10,"k":1,"x":18.8,"y":53.5},{"c":10,"k":1,"x":13.3,"y":52.8},{"c":10,"k":1,"x":22.4,"y":51.7},{"c":10,"k":1,"x":24.1,"y":52.3},{"c":10,"k":1,"x":15.2,"y":50.7},{"c":10,"k":1,"x":15,"y":48.8},{"c":10,"k":1,"x":14.4,"y":48.2},{"c":10,"k":1,"x":13.3,"y":46.9},
{"c":10,"k":2,"x":-0.2,"y":42.7},{"c":10,"k":2,"x":26,"y":54.8},
{"c":1,"k":3,"t":"R=0.15"},{"c":2,"k":3,"t":"R=0.41"},{"c":3,"k":3,"t":"R=0.42"},{"c":4,"k":3,"t":"R=0.45"},{"c":5,"k":3,"t":"R=0.42"},{"c":6,"k":3,"t":"R=0.4"},{"c":7,"k":3,"t":"R=0.36"},{"c":8,"k":3,"t":"R=0.33"},{"c":9,"k":3,"t":"R=0.38"},{"c":10,"k":3,"t":"R=0.48"}
],
"d3":[
{"c":1,"k":0,"x":12,"y":16.5},{"c":1,"k":0,"x":15.9,"y":13.5},{"c":1,"k":0,"x":21,"y":11.9},{"c":1,"k":0,"x":10.3,"y":11.9},{"c":1,"k":0,"x":5.2,"y":10.8},{"c":1,"k":0,"x":16.4,"y":9.6},{"c":1,"k":0,"x":11.8,"y":9.4},{"c":1,"k":0,"x":4.2,"y":7.3},{"c":1,"k":0,"x":21,"y":6.8},{"c":1,"k":0,"x":27.1,"y":7.9},{"c":1,"k":0,"x":18,"y":4.6},{"c":1,"k":0,"x":24.1,"y":1},{"c":1,"k":0,"x":8.8,"y":4.6},{"c":1,"k":0,"x":21.5,"y":7.8},
{"c":1,"k":1,"x":7.2,"y":13.6},{"c":1,"k":1,"x":5.2,"y":12.85},{"c":1,"k":1,"x":9.3,"y":12.8},{"c":1,"k":1,"x":12,"y":13.7},{"c":1,"k":1,"x":13.4,"y":11.2},{"c":1,"k":1,"x":15.1,"y":10.9},{"c":1,"k":1,"x":11,"y":10.4},{"c":1,"k":1,"x":6.2,"y":9.9},{"c":1,"k":1,"x":18.2,"y":8.5},{"c":1,"k":1,"x":21,"y":8.5},{"c":1,"k":1,"x":7.2,"y":8.1},{"c":1,"k":1,"x":15.9,"y":7.9},{"c":1,"k":1,"x":13.4,"y":7.1},{"c":1,"k":1,"x":14.9,"y":6.8},{"c":1,"k":1,"x":10.3,"y":6.4},{"c":1,"k":1,"x":11.8,"y":6.3},{"c":1,"k":1,"x":7.2,"y":6.5},{"c":1,"k":1,"x":18,"y":6.8},{"c":1,"k":1,"x":15.9,"y":6.6},{"c":1,"k":1,"x":10.8,"y":5.6},{"c":1,"k":1,"x":8.3,"y":5.5},{"c":1,"k":1,"x":14.4,"y":5.5},{"c":1,"k":1,"x":15.9,"y":5.6},{"c":1,"k":1,"x":18,"y":5},{"c":1,"k":1,"x":11,"y":4.8},{"c":1,"k":1,"x":14.1,"y":4.8},{"c":1,"k":1,"x":11.8,"y":4.1},{"c":1,"k":1,"x":5.2,"y":3.8},{"c":1,"k":1,"x":8.3,"y":3.4},{"c":1,"k":1,"x":13.1,"y":3.2},{"c":1,"k":1,"x":17.1,"y":3.3},{"c":1,"k":1,"x":20.2,"y":3.3},{"c":1,"k":1,"x":13.1,"y":1.8},{"c":1,"k":1,"x":15.1,"y":1.7},{"c":1,"k":1,"x":20.2,"y":1.9},
{"c":1,"k":2,"x":-0.2,"y":11},{"c":1,"k":2,"x":29.4,"y":4.8},
{"c":2,"k":0,"x":9.3,"y":15.8},{"c":2,"k":0,"x":12.3,"y":15.5},{"c":2,"k":0,"x":13,"y":16.2},{"c":2,"k":0,"x":18.2,"y":14.9},{"c":2,"k":0,"x":5.2,"y":13.5},{"c":2,"k":0,"x":20,"y":13.3},{"c":2,"k":0,"x":7.8,"y":12.7},{"c":2,"k":0,"x":15.9,"y":11},{"c":2,"k":0,"x":20,"y":11.5},{"c":2,"k":0,"x":21.5,"y":9.8},{"c":2,"k":0,"x":14.5,"y":10.2},{"c":2,"k":0,"x":17.1,"y":7.7},{"c":2,"k":0,"x":25.1,"y":6.8},{"c":2,"k":0,"x":25.1,"y":5.6},{"c":2,"k":0,"x":19,"y":4.1},{"c":2,"k":0,"x":22.6,"y":3.9},{"c":2,"k":0,"x":15.9,"y":6.8},{"c":2,"k":0,"x":11.3,"y":6.6},{"c":2,"k":0,"x":20,"y":4.6},
{"c":2,"k":1,"x":10.3,"y":19.6},{"c":2,"k":1,"x":16.1,"y":19.4},{"c":2,"k":1,"x":16.1,"y":13.5},{"c":2,"k":1,"x":17.1,"y":13.6},{"c":2,"k":1,"x":15.1,"y":12.3},{"c":2,"k":1,"x":12,"y":12.1},{"c":2,"k":1,"x":10.8,"y":11.5},{"c":2,"k":1,"x":10.3,"y":10.9},{"c":2,"k":1,"x":5.2,"y":10.5},{"c":2,"k":1,"x":12,"y":9.4},{"c":2,"k":1,"x":13,"y":8.9},{"c":2,"k":1,"x":9.3,"y":9.7},{"c":2,"k":1,"x":18.2,"y":8.7},{"c":2,"k":1,"x":11.3,"y":8.1},{"c":2,"k":1,"x":9.3,"y":7.9},{"c":2,"k":1,"x":21.5,"y":6.7},{"c":2,"k":1,"x":20.2,"y":6.3},{"c":2,"k":1,"x":17.1,"y":5.8},{"c":2,"k":1,"x":15.1,"y":4.8},{"c":2,"k":1,"x":20.8,"y":2.1},
{"c":2,"k":2,"x":0,"y":18.9},{"c":2,"k":2,"x":29.2,"y":1.9},
{"c":3,"k":0,"x":10.1,"y":16.2},{"c":3,"k":0,"x":20.3,"y":14.8},{"c":3,"k":0,"x":23.9,"y":13.5},{"c":3,"k":0,"x":15.2,"y":13.4},{"c":3,"k":0,"x":5.5,"y":12.4},{"c":3,"k":0,"x":12.7,"y":13},{"c":3,"k":0,"x":7.8,"y":10.9},{"c":3,"k":0,"x":19.6,"y":11},{"c":3,"k":0,"x":11.6,"y":9.1},{"c":3,"k":0,"x":17.8,"y":8.5},{"c":3,"k":0,"x":9.1,"y":7.4},{"c":3,"k":0,"x":21.8,"y":7.7},{"c":3,"k":0,"x":13.2,"y":8},{"c":3,"k":0,"x":27,"y":7.7},{"c":3,"k":0,"x":20.3,"y":6.6},{"c":3,"k":0,"x":10.1,"y":5.5},{"c":3,"k":0,"x":17.2,"y":4.1},{"c":3,"k":0,"x":12.1,"y":6.3},{"c":3,"k":0,"x":23.9,"y":5.6},
{"c":3,"k":1,"x":13.2,"y":15.4},{"c":3,"k":1,"x":17.2,"y":11.5},{"c":3,"k":1,"x":13.2,"y":10.6},{"c":3,"k":1,"x":15.2,"y":10.1},{"c":3,"k":1,"x":21,"y":10.1},{"c":3,"k":1,"x":22,"y":9.1},{"c":3,"k":1,"x":24.1,"y":8.7},{"c":3,"k":1,"x":26.1,"y":6.6},{"c":3,"k":1,"x":18,"y":6.4},{"c":3,"k":1,"x":15.9,"y":5.7},{"c":3,"k":1,"x":25.1,"y":5.5},{"c":3,"k":1,"x":15.2,"y":4.9},{"c":3,"k":1,"x":28,"y":4.1},{"c":3,"k":1,"x":26.1,"y":1.8},
{"c":3,"k":2,"x":0,"y":16.1},{"c":3,"k":2,"x":29.2,"y":4.8},
{"c":4,"k":0,"x":11,"y":19.4},{"c":4,"k":0,"x":15.6,"y":16.3},{"c":4,"k":0,"x":16.6,"y":15.5},{"c":4,"k":0,"x":6.4,"y":15.2},{"c":4,"k":0,"x":20.2,"y":13.8},{"c":4,"k":0,"x":8.5,"y":11.6},{"c":4,"k":0,"x":12.6,"y":11.3},{"c":4,"k":0,"x":17.1,"y":11.9},{"c":4,"k":0,"x":19.7,"y":10.5},{"c":4,"k":0,"x":8,"y":9.5},{"c":4,"k":0,"x":26.8,"y":10.2},{"c":4,"k":0,"x":11,"y":7.1},{"c":4,"k":0,"x":14.1,"y":6.2},{"c":4,"k":0,"x":23.8,"y":8},{"c":4,"k":0,"x":25.8,"y":6.6},{"c":4,"k":0,"x":15.6,"y":5.5},{"c":4,"k":0,"x":24.8,"y":3.5},{"c":4,"k":0,"x":28.9,"y":3.2},{"c":4,"k":0,"x":27.9,"y":1.7},{"c":4,"k":0,"x":17.1,"y":3.4},
{"c":4,"k":1,"x":6.9,"y":18.9},{"c":4,"k":1,"x":10,"y":17.2},{"c":4,"k":1,"x":11.7,"y":18},{"c":4,"k":1,"x":9,"y":14.1},{"c":4,"k":1,"x":8,"y":13.5},{"c":4,"k":1,"x":9,"y":12.7},{"c":4,"k":1,"x":12,"y":12.7},{"c":4,"k":1,"x":14.1,"y":12.7},{"c":4,"k":1,"x":15.1,"y":13.3},{"c":4,"k":1,"x":16.7,"y":8.9},{"c":4,"k":1,"x":18.4,"y":8.7},{"c":4,"k":1,"x":17.7,"y":8.4},{"c":4,"k":1,"x":21.1,"y":8.7},{"c":4,"k":1,"x":25.1,"y":7.7},{"c":4,"k":1,"x":16.7,"y":7.1},{"c":4,"k":1,"x":18.9,"y":7.1},{"c":4,"k":1,"x":19.4,"y":6.8},{"c":4,"k":1,"x":18.7,"y":4.3},{"c":4,"k":1,"x":21.5,"y":5},{"c":4,"k":1,"x":22.5,"y":4.3},
{"c":4,"k":2,"x":0.1,"y":20},{"c":4,"k":2,"x":29.3,"y":2.5},
{"c":5,"k":0,"x":9.6,"y":18.3},{"c":5,"k":0,"x":12.7,"y":16.6},{"c":5,"k":0,"x":16.7,"y":16.6},{"c":5,"k":0,"x":18.8,"y":15.6},{"c":5,"k":0,"x":20.8,"y":14.2},{"c":5,"k":0,"x":11.6,"y":14.1},{"c":5,"k":0,"x":14.7,"y":12.7},{"c":5,"k":0,"x":25.9,"y":12.6},{"c":5,"k":0,"x":10.1,"y":11.6},{"c":5,"k":0,"x":19.8,"y":12.1},{"c":5,"k":0,"x":12.1,"y":8.7},{"c":5,"k":0,"x":17.8,"y":9.1},{"c":5,"k":0,"x":23.9,"y":9.1},{"c":5,"k":0,"x":9.6,"y":7.4},{"c":5,"k":0,"x":17.8,"y":7.7},{"c":5,"k":0,"x":25.9,"y":7.8},{"c":5,"k":0,"x":22.9,"y":5.7},{"c":5,"k":0,"x":17.2,"y":3.4},{"c":5,"k":0,"x":13.7,"y":6},
{"c":5,"k":1,"x":9.1,"y":19.7},{"c":5,"k":1,"x":8.1,"y":17.6},{"c":5,"k":1,"x":23.1,"y":11.2},{"c":5,"k":1,"x":9.1,"y":10.7},{"c":5,"k":1,"x":13.9,"y":10.4},{"c":5,"k":1,"x":16.9,"y":10.3},{"c":5,"k":1,"x":14.9,"y":6.9},{"c":5,"k":1,"x":19,"y":6.5},{"c":5,"k":1,"x":28,"y":6.2},{"c":5,"k":1,"x":16.9,"y":5},{"c":5,"k":1,"x":21,"y":5.1},{"c":5,"k":1,"x":22,"y":4.1},
{"c":5,"k":2,"x":0,"y":19.1},{"c":5,"k":2,"x":29.2,"y":3.5},
{"c":6,"k":0,"x":10,"y":16.6},{"c":6,"k":0,"x":12,"y":16.3},{"c":6,"k":0,"x":14.1,"y":15.5},{"c":6,"k":0,"x":17.1,"y":14.1},{"c":6,"k":0,"x":21.8,"y":14.7},{"c":6,"k":0,"x":24.8,"y":15.1},{"c":6,"k":0,"x":10.5,"y":12.7},{"c":6,"k":0,"x":18.7,"y":11.9},{"c":6,"k":0,"x":5.9,"y":10.9},{"c":6,"k":0,"x":27.9,"y":9.5},{"c":6,"k":0,"x":11,"y":8.7},{"c":6,"k":0,"x":16.6,"y":7.4},{"c":6,"k":0,"x":12.5,"y":6.8},{"c":6,"k":0,"x":20.7,"y":6.3},{"c":6,"k":0,"x":24.8,"y":7.7},{"c":6,"k":0,"x":17.7,"y":4.3},{"c":6,"k":0,"x":20.2,"y":4.9},{"c":6,"k":0,"x":16.6,"y":3.2},{"c":6,"k":0,"x":18.7,"y":2.4},{"c":6,"k":0,"x":7.9,"y":9.2},
{"c":6,"k":1,"x":11,"y":15.4},{"c":6,"k":1,"x":10,"y":11.9},{"c":6,"k":1,"x":7.9,"y":10.3},{"c":6,"k":1,"x":13,"y":10.6},{"c":6,"k":1,"x":16.8,"y":10.3},{"c":6,"k":1,"x":17.9,"y":9.4},{"c":6,"k":1,"x":23.8,"y":9.4},{"c":6,"k":1,"x":18.9,"y":8},{"c":6,"k":1,"x":21.8,"y":7.3},{"c":6,"k":1,"x":21.9,"y":6.4},{"c":6,"k":1,"x":27.9,"y":5.1},{"c":6,"k":1,"x":24.8,"y":4.4},{"c":6,"k":1,"x":26.9,"y":4.1},{"c":6,"k":1,"x":20.9,"y":2.9},{"c":6,"k":1,"x":23.8,"y":3.2},
{"c":6,"k":2,"x":0,"y":16.9},{"c":6,"k":2,"x":29,"y":4.3},
{"c":7,"k":0,"x":12.7,"y":17.2},{"c":7,"k":0,"x":9.7,"y":16.3},{"c":7,"k":0,"x":23.5,"y":17.5},{"c":7,"k":0,"x":14.8,"y":14.1},{"c":7,"k":0,"x":25.6,"y":14.4},{"c":7,"k":0,"x":10.7,"y":11.9},{"c":7,"k":0,"x":22.5,"y":11.3},{"c":7,"k":0,"x":17.9,"y":10.8},{"c":7,"k":0,"x":11.7,"y":10.2},{"c":7,"k":0,"x":19.9,"y":8.2},{"c":7,"k":0,"x":10.7,"y":8},{"c":7,"k":0,"x":14.8,"y":7.7},{"c":7,"k":0,"x":24,"y":7.4},{"c":7,"k":0,"x":16.5,"y":6.8},{"c":7,"k":0,"x":19.9,"y":6.6},{"c":7,"k":0,"x":28.1,"y":6},{"c":7,"k":0,"x":19.9,"y":4.6},{"c":7,"k":0,"x":17.9,"y":3.2},{"c":7,"k":0,"x":22.5,"y":4.9},{"c":7,"k":0,"x":25,"y":4.3},
{"c":7,"k":1,"x":16.6,"y":15.1},{"c":7,"k":1,"x":8.8,"y":14.2},{"c":7,"k":1,"x":14.6,"y":11.8},{"c":7,"k":1,"x":17.7,"y":11.8},{"c":7,"k":1,"x":13.8,"y":10.9},{"c":7,"k":1,"x":12.7,"y":9.5},{"c":7,"k":1,"x":19.6,"y":9.4},{"c":7,"k":1,"x":21.5,"y":9.5},{"c":7,"k":1,"x":28.3,"y":7.7},{"c":7,"k":1,"x":21.5,"y":5.5},{"c":7,"k":1,"x":25.3,"y":3.8},{"c":7,"k":1,"x":24.5,"y":3.2},
{"c":7,"k":2,"x":-0.1,"y":17.3},{"c":7,"k":2,"x":28.6,"y":4.8},
{"c":8,"k":0,"x":16,"y":16.3},{"c":8,"k":0,"x":9.9,"y":15.5},{"c":8,"k":0,"x":20.1,"y":14.8},{"c":8,"k":0,"x":22.2,"y":14.9},{"c":8,"k":0,"x":11,"y":13.8},{"c":8,"k":0,"x":6.8,"y":12.7},{"c":8,"k":0,"x":18.5,"y":13.3},{"c":8,"k":0,"x":25.3,"y":11.9},{"c":8,"k":0,"x":7.8,"y":10},{"c":8,"k":0,"x":12.9,"y":11},{"c":8,"k":0,"x":23.2,"y":11},{"c":8,"k":0,"x":20.1,"y":9.6},{"c":8,"k":0,"x":15,"y":9.1},{"c":8,"k":0,"x":24.3,"y":9.1},{"c":8,"k":0,"x":19.1,"y":8},{"c":8,"k":0,"x":23.2,"y":6},{"c":8,"k":0,"x":17,"y":5.7},{"c":8,"k":0,"x":20.1,"y":5.2},{"c":8,"k":0,"x":26.8,"y":2.1},{"c":8,"k":0,"x":22.2,"y":3.8},
{"c":8,"k":1,"x":14,"y":14.7},{"c":8,"k":1,"x":15,"y":13.5},{"c":8,"k":1,"x":14,"y":11.5},{"c":8,"k":1,"x":9,"y":8.2},{"c":8,"k":1,"x":14,"y":7.3},{"c":8,"k":1,"x":15,"y":7},{"c":8,"k":1,"x":17,"y":7.7},{"c":8,"k":1,"x":19.9,"y":7.3},{"c":8,"k":1,"x":25,"y":7},{"c":8,"k":1,"x":25.8,"y":5.6},{"c":8,"k":1,"x":15,"y":4.9},{"c":8,"k":1,"x":23,"y":4.3},{"c":8,"k":1,"x":25,"y":4.1},
{"c":8,"k":2,"x":0.1,"y":18.3},{"c":8,"k":2,"x":29.2,"y":4.1},
{"c":9,"k":0,"x":7.9,"y":16.6},{"c":9,"k":0,"x":13.6,"y":16.9},{"c":9,"k":0,"x":19.2,"y":15.9},{"c":9,"k":0,"x":25.9,"y":15.9},{"c":9,"k":0,"x":18.2,"y":14.2},{"c":9,"k":0,"x":12.5,"y":13},{"c":9,"k":0,"x":22.7,"y":12.7},{"c":9,"k":0,"x":7.9,"y":12.7},{"c":9,"k":0,"x":16.1,"y":12.4},{"c":9,"k":0,"x":11.9,"y":11.3},{"c":9,"k":0,"x":22.4,"y":10.2},{"c":9,"k":0,"x":13,"y":9.1},{"c":9,"k":0,"x":16.9,"y":7.4},{"c":9,"k":0,"x":24.8,"y":6.8},{"c":9,"k":0,"x":28.9,"y":7.1},{"c":9,"k":0,"x":14.9,"y":4.9},{"c":9,"k":0,"x":23.3,"y":3.5},{"c":9,"k":0,"x":10.5,"y":3.6},
{"c":9,"k":1,"x":15.3,"y":16.1},{"c":9,"k":1,"x":6.7,"y":14.4},{"c":9,"k":1,"x":10.5,"y":14.2},{"c":9,"k":1,"x":20.2,"y":12.5},{"c":9,"k":1,"x":18.2,"y":11.2},{"c":9,"k":1,"x":19.2,"y":9.4},{"c":9,"k":1,"x":14.6,"y":8.7},{"c":9,"k":1,"x":16.3,"y":9.1},{"c":9,"k":1,"x":18.2,"y":8.5},{"c":9,"k":1,"x":19.2,"y":7.7},{"c":9,"k":1,"x":18.2,"y":6.3},{"c":9,"k":1,"x":22.1,"y":6.3},{"c":9,"k":1,"x":21,"y":4.8},{"c":9,"k":1,"x":21,"y":3.8},{"c":9,"k":1,"x":21,"y":3.4},
{"c":9,"k":2,"x":0.2,"y":18.4},{"c":9,"k":2,"x":28,"y":4.5},
{"c":10,"k":0,"x":6,"y":19.7},{"c":10,"k":0,"x":4.9,"y":15},{"c":10,"k":0,"x":11.6,"y":15.6},{"c":10,"k":0,"x":14.2,"y":15.8},{"c":10,"k":0,"x":16.8,"y":15.2},{"c":10,"k":0,"x":15.7,"y":14.2},{"c":10,"k":0,"x":8.7,"y":11.9},{"c":10,"k":0,"x":13.1,"y":12.4},{"c":10,"k":0,"x":17.5,"y":12.7},{"c":10,"k":0,"x":20.6,"y":12.2},{"c":10,"k":0,"x":22.2,"y":11},{"c":10,"k":0,"x":9.8,"y":9.1},{"c":10,"k":0,"x":12,"y":8.2},{"c":10,"k":0,"x":17.2,"y":7.4},{"c":10,"k":0,"x":28.5,"y":5.5},{"c":10,"k":0,"x":13.1,"y":4.6},{"c":10,"k":0,"x":15.2,"y":3.5},{"c":10,"k":0,"x":20.3,"y":4.1},{"c":10,"k":0,"x":22.4,"y":5.2},{"c":10,"k":0,"x":11.1,"y":8.8},
{"c":10,"k":1,"x":13.3,"y":12.5},{"c":10,"k":1,"x":15,"y":10.4},{"c":10,"k":1,"x":22.2,"y":9.5},{"c":10,"k":1,"x":17,"y":8.6},{"c":10,"k":1,"x":15.2,"y":7.9},{"c":10,"k":1,"x":19.5,"y":8.3},{"c":10,"k":1,"x":23.4,"y":7.3},{"c":10,"k":1,"x":24.1,"y":7.4},{"c":10,"k":1,"x":18.8,"y":7},{"c":10,"k":1,"x":20.5,"y":6.5},{"c":10,"k":1,"x":14.2,"y":6.3},{"c":10,"k":1,"x":24.1,"y":6.3},{"c":10,"k":1,"x":21.6,"y":2.9},{"c":10,"k":1,"x":24.1,"y":1.7},
{"c":10,"k":2,"x":-0.2,"y":19.7},{"c":10,"k":2,"x":26,"y":4.1},
{"c":1,"k":3,"t":"R=-0.26"},{"c":2,"k":3,"t":"R=-0.6"},{"c":3,"k":3,"t":"R=-0.56"},{"c":4,"k":3,"t":"R=-0.73"},{"c":5,"k":3,"t":"R=-0.6"},{"c":6,"k":3,"t":"R=-0.54"},{"c":7,"k":3,"t":"R=-0.55"},{"c":8,"k":3,"t":"R=-0.59"},{"c":9,"k":3,"t":"R=-0.59"},{"c":10,"k":3,"t":"R=-0.6"}
],
"d4":[
{"c":1,"k":0,"x":7.2,"y":770},{"c":1,"k":0,"x":9.3,"y":782},{"c":1,"k":0,"x":15.9,"y":828},{"c":1,"k":0,"x":21,"y":866},{"c":1,"k":0,"x":27.1,"y":884},{"c":1,"k":0,"x":4.2,"y":891},{"c":1,"k":0,"x":24.1,"y":935},{"c":1,"k":0,"x":15.9,"y":904},{"c":1,"k":0,"x":19,"y":874},{"c":1,"k":0,"x":7.8,"y":879},{"c":1,"k":0,"x":12.9,"y":853},{"c":1,"k":0,"x":18,"y":845},{"c":1,"k":0,"x":10.8,"y":929},
{"c":1,"k":1,"x":9.3,"y":814},{"c":1,"k":1,"x":11,"y":814},{"c":1,"k":1,"x":7.2,"y":827},{"c":1,"k":1,"x":6.2,"y":835},{"c":1,"k":1,"x":21,"y":842},{"c":1,"k":1,"x":11,"y":837},{"c":1,"k":1,"x":5.2,"y":855},{"c":1,"k":1,"x":7.2,"y":865},{"c":1,"k":1,"x":11,"y":861},{"c":1,"k":1,"x":14.4,"y":853},{"c":1,"k":1,"x":15.9,"y":865},{"c":1,"k":1,"x":10.3,"y":874},{"c":1,"k":1,"x":12.9,"y":876},{"c":1,"k":1,"x":15.9,"y":881},{"c":1,"k":1,"x":18,"y":889},{"c":1,"k":1,"x":7.2,"y":893},{"c":1,"k":1,"x":11.8,"y":895},{"c":1,"k":1,"x":14.4,"y":894},{"c":1,"k":1,"x":5.2,"y":903},{"c":1,"k":1,"x":10.3,"y":899},{"c":1,"k":1,"x":8.3,"y":910},{"c":1,"k":1,"x":12.3,"y":912},{"c":1,"k":1,"x":18.2,"y":910},{"c":1,"k":1,"x":15.4,"y":920},{"c":1,"k":1,"x":20.2,"y":918},{"c":1,"k":1,"x":8.3,"y":925},{"c":1,"k":1,"x":12.9,"y":925},{"c":1,"k":1,"x":17.1,"y":920},{"c":1,"k":1,"x":15.1,"y":937},{"c":1,"k":1,"x":20.2,"y":951},
{"c":1,"k":2,"x":-0.2,"y":837},{"c":1,"k":2,"x":29.4,"y":920},
{"c":2,"k":0,"x":7.8,"y":751},{"c":2,"k":0,"x":9.8,"y":782},{"c":2,"k":0,"x":12.9,"y":782},{"c":2,"k":0,"x":18,"y":795},{"c":2,"k":0,"x":8.8,"y":803},{"c":2,"k":0,"x":14.5,"y":824},{"c":2,"k":0,"x":19.1,"y":832},{"c":2,"k":0,"x":25.1,"y":851},{"c":2,"k":0,"x":7.8,"y":858},{"c":2,"k":0,"x":16.9,"y":870},{"c":2,"k":0,"x":19.5,"y":853},{"c":2,"k":0,"x":13.9,"y":870},{"c":2,"k":0,"x":25.1,"y":891},{"c":2,"k":0,"x":19,"y":895},{"c":2,"k":0,"x":15.9,"y":908},{"c":2,"k":0,"x":22.6,"y":925},{"c":2,"k":0,"x":21,"y":943},{"c":2,"k":0,"x":12.9,"y":895},{"c":2,"k":0,"x":9.8,"y":866},
{"c":2,"k":1,"x":7.2,"y":702},{"c":2,"k":1,"x":16.1,"y":749},{"c":2,"k":1,"x":10.3,"y":759},{"c":2,"k":1,"x":11.3,"y":808},{"c":2,"k":1,"x":10.3,"y":823},{"c":2,"k":1,"x":15.9,"y":820},{"c":2,"k":1,"x":8.8,"y":837},{"c":2,"k":1,"x":12.3,"y":837},{"c":2,"k":1,"x":15.1,"y":837},{"c":2,"k":1,"x":18.2,"y":840},{"c":2,"k":1,"x":10.8,"y":851},{"c":2,"k":1,"x":5.2,"y":849},{"c":2,"k":1,"x":11.3,"y":858},{"c":2,"k":1,"x":17.1,"y":851},{"c":2,"k":1,"x":20.2,"y":874},{"c":2,"k":1,"x":21.5,"y":888},{"c":2,"k":1,"x":12.3,"y":884},{"c":2,"k":1,"x":21,"y":914},{"c":2,"k":1,"x":17.1,"y":932},{"c":2,"k":1,"x":15.1,"y":948},
{"c":2,"k":2,"x":0,"y":767},{"c":2,"k":2,"x":29.2,"y":933},
{"c":3,"k":0,"x":10.6,"y":763},{"c":3,"k":0,"x":10.1,"y":778},{"c":3,"k":0,"x":11.6,"y":807},{"c":3,"k":0,"x":18.8,"y":805},{"c":3,"k":0,"x":23.9,"y":811},{"c":3,"k":0,"x":4.5,"y":837},{"c":3,"k":0,"x":7.6,"y":832},{"c":3,"k":0,"x":12.7,"y":832},{"c":3,"k":0,"x":17.8,"y":841},{"c":3,"k":0,"x":9.6,"y":853},{"c":3,"k":0,"x":21.8,"y":860},{"c":3,"k":0,"x":27,"y":866},{"c":3,"k":0,"x":10.6,"y":874},{"c":3,"k":0,"x":19.6,"y":874},{"c":3,"k":0,"x":22.7,"y":895},{"c":3,"k":0,"x":13.9,"y":895},{"c":3,"k":0,"x":17.8,"y":916},{"c":3,"k":0,"x":22.7,"y":908},{"c":3,"k":0,"x":9.6,"y":883},
{"c":3,"k":1,"x":13.2,"y":782},{"c":3,"k":1,"x":13.2,"y":814},{"c":3,"k":1,"x":17.2,"y":817},{"c":3,"k":1,"x":24.1,"y":832},{"c":3,"k":1,"x":21,"y":841},{"c":3,"k":1,"x":22,"y":845},{"c":3,"k":1,"x":15.2,"y":865},{"c":3,"k":1,"x":18,"y":865},{"c":3,"k":1,"x":28,"y":875},{"c":3,"k":1,"x":25.1,"y":888},{"c":3,"k":1,"x":26.1,"y":888},{"c":3,"k":1,"x":15.2,"y":900},{"c":3,"k":1,"x":15.9,"y":908},{"c":3,"k":1,"x":26.1,"y":937},
{"c":3,"k":2,"x":0,"y":805},{"c":3,"k":2,"x":29.2,"y":893},
{"c":4,"k":0,"x":9,"y":719},{"c":4,"k":0,"x":14.1,"y":770},{"c":4,"k":0,"x":6.4,"y":791},{"c":4,"k":0,"x":12.6,"y":816},{"c":4,"k":0,"x":8,"y":820},{"c":4,"k":0,"x":19.7,"y":824},{"c":4,"k":0,"x":22.8,"y":822},{"c":4,"k":0,"x":10.6,"y":841},{"c":4,"k":0,"x":13.6,"y":853},{"c":4,"k":0,"x":8,"y":858},{"c":4,"k":0,"x":26.3,"y":851},{"c":4,"k":0,"x":19.7,"y":874},{"c":4,"k":0,"x":15.1,"y":891},{"c":4,"k":0,"x":24.8,"y":895},{"c":4,"k":0,"x":27.9,"y":916},{"c":4,"k":0,"x":16.8,"y":929},{"c":4,"k":0,"x":26.8,"y":929},{"c":4,"k":0,"x":13.6,"y":837},
{"c":4,"k":1,"x":10,"y":703},{"c":4,"k":1,"x":9,"y":739},{"c":4,"k":1,"x":6.9,"y":763},{"c":4,"k":1,"x":10,"y":763},{"c":4,"k":1,"x":9,"y":780},{"c":4,"k":1,"x":8,"y":788},{"c":4,"k":1,"x":10,"y":788},{"c":4,"k":1,"x":12,"y":800},{"c":4,"k":1,"x":14.1,"y":790},{"c":4,"k":1,"x":15.1,"y":823},{"c":4,"k":1,"x":15.8,"y":832},{"c":4,"k":1,"x":17.1,"y":864},{"c":4,"k":1,"x":9,"y":870},{"c":4,"k":1,"x":17.9,"y":879},{"c":4,"k":1,"x":24.8,"y":866},{"c":4,"k":1,"x":21.1,"y":887},{"c":4,"k":1,"x":16.7,"y":900},{"c":4,"k":1,"x":18.4,"y":911},{"c":4,"k":1,"x":19.4,"y":918},{"c":4,"k":1,"x":21.5,"y":914},{"c":4,"k":1,"x":22.5,"y":911},
{"c":4,"k":2,"x":0,"y":753},{"c":4,"k":2,"x":29.3,"y":929},
{"c":5,"k":0,"x":11.6,"y":761},{"c":5,"k":0,"x":14.2,"y":788},{"c":5,"k":0,"x":9.6,"y":795},{"c":5,"k":0,"x":20.8,"y":801},{"c":5,"k":0,"x":12.7,"y":811},{"c":5,"k":0,"x":15.7,"y":826},{"c":5,"k":0,"x":10.1,"y":832},{"c":5,"k":0,"x":18.8,"y":824},{"c":5,"k":0,"x":24.9,"y":841},{"c":5,"k":0,"x":17.8,"y":845},{"c":5,"k":0,"x":12.7,"y":853},{"c":5,"k":0,"x":20.8,"y":874},{"c":5,"k":0,"x":10.1,"y":879},{"c":5,"k":0,"x":15.7,"y":891},{"c":5,"k":0,"x":23.9,"y":895},{"c":5,"k":0,"x":14.7,"y":920},{"c":5,"k":0,"x":18.3,"y":935},{"c":5,"k":0,"x":25.9,"y":908},{"c":5,"k":0,"x":9.6,"y":866},
{"c":5,"k":1,"x":9.1,"y":759},{"c":5,"k":1,"x":8.1,"y":811},{"c":5,"k":1,"x":9.1,"y":823},{"c":5,"k":1,"x":23.1,"y":837},{"c":5,"k":1,"x":13.9,"y":858},{"c":5,"k":1,"x":16.9,"y":860},{"c":5,"k":1,"x":28,"y":872},{"c":5,"k":1,"x":14.9,"y":885},{"c":5,"k":1,"x":19,"y":889},{"c":5,"k":1,"x":22,"y":899},{"c":5,"k":1,"x":16.9,"y":925},{"c":5,"k":1,"x":21,"y":925},
{"c":5,"k":2,"x":0,"y":772},{"c":5,"k":2,"x":29.2,"y":914},
{"c":6,"k":0,"x":7.9,"y":747},{"c":6,"k":0,"x":12,"y":753},{"c":6,"k":0,"x":8.9,"y":770},{"c":6,"k":0,"x":10,"y":784},{"c":6,"k":0,"x":15.8,"y":778},{"c":6,"k":0,"x":21.8,"y":778},{"c":6,"k":0,"x":14.6,"y":795},{"c":6,"k":0,"x":10,"y":803},{"c":6,"k":0,"x":17.1,"y":814},{"c":6,"k":0,"x":5.9,"y":837},{"c":6,"k":0,"x":25.4,"y":828},{"c":6,"k":0,"x":12.5,"y":853},{"c":6,"k":0,"x":17.7,"y":870},{"c":6,"k":0,"x":27.9,"y":862},{"c":6,"k":0,"x":16.6,"y":887},{"c":6,"k":0,"x":23.8,"y":891},{"c":6,"k":0,"x":14.6,"y":916},{"c":6,"k":0,"x":19.7,"y":908},{"c":6,"k":0,"x":16.6,"y":933},{"c":6,"k":0,"x":18.7,"y":950},
{"c":6,"k":1,"x":10.3,"y":824},{"c":6,"k":1,"x":11,"y":837},{"c":6,"k":1,"x":13,"y":823},{"c":6,"k":1,"x":16.8,"y":837},{"c":6,"k":1,"x":17.9,"y":837},{"c":6,"k":1,"x":21.9,"y":832},{"c":6,"k":1,"x":21.9,"y":850},{"c":6,"k":1,"x":18.9,"y":858},{"c":6,"k":1,"x":23.8,"y":867},{"c":6,"k":1,"x":7.9,"y":860},{"c":6,"k":1,"x":26.9,"y":899},{"c":6,"k":1,"x":24.8,"y":912},{"c":6,"k":1,"x":20.9,"y":927},{"c":6,"k":1,"x":23.8,"y":932},{"c":6,"k":1,"x":27.7,"y":933},
{"c":6,"k":2,"x":-0.2,"y":791},{"c":6,"k":2,"x":29,"y":908},
{"c":7,"k":0,"x":10.7,"y":782},{"c":7,"k":0,"x":15.8,"y":782},{"c":7,"k":0,"x":11.7,"y":811},{"c":7,"k":0,"x":17.9,"y":832},{"c":7,"k":0,"x":22,"y":845},{"c":7,"k":0,"x":25.1,"y":847},{"c":7,"k":0,"x":10.7,"y":837},{"c":7,"k":0,"x":14.8,"y":853},{"c":7,"k":0,"x":19.9,"y":866},{"c":7,"k":0,"x":24,"y":874},{"c":7,"k":0,"x":16.8,"y":879},{"c":7,"k":0,"x":18.4,"y":895},{"c":7,"k":0,"x":22,"y":904},{"c":7,"k":0,"x":19.9,"y":916},{"c":7,"k":0,"x":16.8,"y":912},{"c":7,"k":0,"x":28.1,"y":895},{"c":7,"k":0,"x":10.7,"y":891},{"c":7,"k":0,"x":22.5,"y":920},
{"c":7,"k":1,"x":8.8,"y":798},{"c":7,"k":1,"x":13.8,"y":823},{"c":7,"k":1,"x":16.6,"y":819},{"c":7,"k":1,"x":17.7,"y":836},{"c":7,"k":1,"x":19.6,"y":841},{"c":7,"k":1,"x":14.8,"y":861},{"c":7,"k":1,"x":12.7,"y":873},{"c":7,"k":1,"x":21.5,"y":869},{"c":7,"k":1,"x":28.3,"y":879},{"c":7,"k":1,"x":24.5,"y":897},{"c":7,"k":1,"x":25.3,"y":904},
{"c":7,"k":2,"x":-0.4,"y":774},{"c":7,"k":2,"x":28.6,"y":908},
{"c":8,"k":0,"x":8.8,"y":763},{"c":8,"k":0,"x":11.9,"y":765},{"c":8,"k":0,"x":9.5,"y":786},{"c":8,"k":0,"x":6.8,"y":811},{"c":8,"k":0,"x":20.1,"y":803},{"c":8,"k":0,"x":23.2,"y":816},{"c":8,"k":0,"x":12.9,"y":820},{"c":8,"k":0,"x":19.1,"y":858},{"c":8,"k":0,"x":21.1,"y":853},{"c":8,"k":0,"x":8.3,"y":841},{"c":8,"k":0,"x":23.2,"y":874},{"c":8,"k":0,"x":18.1,"y":895},{"c":8,"k":0,"x":21.1,"y":895},{"c":8,"k":0,"x":17,"y":912},{"c":8,"k":0,"x":20.1,"y":929},{"c":8,"k":0,"x":26.8,"y":950},{"c":8,"k":0,"x":10.9,"y":874},{"c":8,"k":0,"x":25.2,"y":866},
{"c":8,"k":1,"x":10.4,"y":728},{"c":8,"k":1,"x":15,"y":786},{"c":8,"k":1,"x":14,"y":828},{"c":8,"k":1,"x":9,"y":853},{"c":8,"k":1,"x":14,"y":844},{"c":8,"k":1,"x":19.9,"y":837},{"c":8,"k":1,"x":25,"y":839},{"c":8,"k":1,"x":14,"y":866},{"c":8,"k":1,"x":15,"y":881},{"c":8,"k":1,"x":17,"y":885},{"c":8,"k":1,"x":15,"y":893},{"c":8,"k":1,"x":25,"y":891},{"c":8,"k":1,"x":23,"y":920},{"c":8,"k":1,"x":25.8,"y":925},
{"c":8,"k":2,"x":0,"y":769},{"c":8,"k":2,"x":29.2,"y":908},
{"c":9,"k":0,"x":10.5,"y":757},{"c":9,"k":0,"x":16.1,"y":788},{"c":9,"k":0,"x":19.2,"y":770},{"c":9,"k":0,"x":12.5,"y":803},{"c":9,"k":0,"x":7.9,"y":841},{"c":9,"k":0,"x":11.9,"y":853},{"c":9,"k":0,"x":22.3,"y":828},{"c":9,"k":0,"x":14.9,"y":874},{"c":9,"k":0,"x":25.4,"y":862},{"c":9,"k":0,"x":28.4,"y":866},{"c":9,"k":0,"x":16.1,"y":895},{"c":9,"k":0,"x":19.2,"y":899},{"c":9,"k":0,"x":10.5,"y":918},{"c":9,"k":0,"x":20.2,"y":929},{"c":9,"k":0,"x":23.8,"y":956},{"c":9,"k":0,"x":24.3,"y":908},
{"c":9,"k":1,"x":15.3,"y":778},{"c":9,"k":1,"x":10.5,"y":798},{"c":9,"k":1,"x":6.7,"y":811},{"c":9,"k":1,"x":20.2,"y":814},{"c":9,"k":1,"x":16.3,"y":836},{"c":9,"k":1,"x":18.4,"y":841},{"c":9,"k":1,"x":19.2,"y":845},{"c":9,"k":1,"x":14.6,"y":847},{"c":9,"k":1,"x":18,"y":864},{"c":9,"k":1,"x":22.1,"y":870},{"c":9,"k":1,"x":21,"y":893},{"c":9,"k":1,"x":21,"y":910},
{"c":9,"k":2,"x":-0.1,"y":767},{"c":9,"k":2,"x":27.9,"y":904},
{"c":10,"k":0,"x":9,"y":767},{"c":10,"k":0,"x":11.1,"y":757},{"c":10,"k":0,"x":11.6,"y":786},{"c":10,"k":0,"x":4.9,"y":826},{"c":10,"k":0,"x":14.2,"y":803},{"c":10,"k":0,"x":16.2,"y":803},{"c":10,"k":0,"x":19.3,"y":826},{"c":10,"k":0,"x":22.4,"y":839},{"c":10,"k":0,"x":9,"y":851},{"c":10,"k":0,"x":16.2,"y":870},{"c":10,"k":0,"x":13.1,"y":912},{"c":10,"k":0,"x":15.2,"y":929},{"c":10,"k":0,"x":19.3,"y":904},{"c":10,"k":0,"x":28.5,"y":918},{"c":10,"k":0,"x":22.4,"y":956},{"c":10,"k":0,"x":22.9,"y":962},{"c":10,"k":0,"x":11.1,"y":891},
{"c":10,"k":1,"x":13.3,"y":818},{"c":10,"k":1,"x":17,"y":836},{"c":10,"k":1,"x":19.5,"y":848},{"c":10,"k":1,"x":15,"y":849},{"c":10,"k":1,"x":15,"y":864},{"c":10,"k":1,"x":14.2,"y":874},{"c":10,"k":1,"x":22.2,"y":861},{"c":10,"k":1,"x":23.4,"y":867},{"c":10,"k":1,"x":24.1,"y":869},{"c":10,"k":1,"x":20.5,"y":883},{"c":10,"k":1,"x":24.1,"y":892},{"c":10,"k":1,"x":18.8,"y":897},{"c":10,"k":1,"x":21.6,"y":916},{"c":10,"k":1,"x":24.1,"y":934},
{"c":10,"k":2,"x":-0.2,"y":758},{"c":10,"k":2,"x":26,"y":911},
{"c":1,"k":3,"t":"R=0.36"},{"c":2,"k":3,"t":"R=0.63"},{"c":3,"k":3,"t":"R=0.46"},{"c":4,"k":3,"t":"R=0.7"},{"c":5,"k":3,"t":"R=0.56"},{"c":6,"k":3,"t":"R=0.44"},{"c":7,"k":3,"t":"R=0.58"},{"c":8,"k":3,"t":"R=0.53"},{"c":9,"k":3,"t":"R=0.63"},{"c":10,"k":3,"t":"R=0.62"}
],
"d5":[
{"c":1,"k":0,"x":7.2,"y":711},{"c":1,"k":0,"x":9.3,"y":702},{"c":1,"k":0,"x":16.1,"y":791},{"c":1,"k":0,"x":8.3,"y":807},{"c":1,"k":0,"x":10.3,"y":803},{"c":1,"k":0,"x":15.9,"y":811},{"c":1,"k":0,"x":4.2,"y":886},{"c":1,"k":0,"x":21,"y":886},{"c":1,"k":0,"x":27.1,"y":896},{"c":1,"k":0,"x":22,"y":931},{"c":1,"k":0,"x":24.1,"y":953},{"c":1,"k":0,"x":7.8,"y":868},{"c":1,"k":0,"x":14.4,"y":876},{"c":1,"k":0,"x":18,"y":951},
{"c":1,"k":1,"x":9.3,"y":778},{"c":1,"k":1,"x":5.2,"y":827},{"c":1,"k":1,"x":7.2,"y":828},{"c":1,"k":1,"x":6.2,"y":840},{"c":1,"k":1,"x":15.9,"y":832},{"c":1,"k":1,"x":11,"y":843},{"c":1,"k":1,"x":13.1,"y":838},{"c":1,"k":1,"x":12,"y":842},{"c":1,"k":1,"x":14.1,"y":851},{"c":1,"k":1,"x":15.1,"y":861},{"c":1,"k":1,"x":21,"y":853},{"c":1,"k":1,"x":11,"y":875},{"c":1,"k":1,"x":7.2,"y":889},{"c":1,"k":1,"x":11,"y":896},{"c":1,"k":1,"x":14.1,"y":892},{"c":1,"k":1,"x":18,"y":892},{"c":1,"k":1,"x":8.3,"y":907},{"c":1,"k":1,"x":10.3,"y":907},{"c":1,"k":1,"x":13.1,"y":906},{"c":1,"k":1,"x":16.4,"y":906},{"c":1,"k":1,"x":5.2,"y":910},{"c":1,"k":1,"x":11,"y":918},{"c":1,"k":1,"x":15.1,"y":918},{"c":1,"k":1,"x":18,"y":918},{"c":1,"k":1,"x":20.2,"y":914},{"c":1,"k":1,"x":7.2,"y":921},{"c":1,"k":1,"x":17.1,"y":928},{"c":1,"k":1,"x":13.1,"y":937},{"c":1,"k":1,"x":12,"y":943},{"c":1,"k":1,"x":20.2,"y":948},{"c":1,"k":1,"x":15.1,"y":955},
{"c":1,"k":2,"x":-0.2,"y":825},{"c":1,"k":2,"x":29.4,"y":943},
{"c":2,"k":0,"x":7.8,"y":708},{"c":2,"k":0,"x":5.2,"y":750},{"c":2,"k":0,"x":10.3,"y":778},{"c":2,"k":0,"x":12.3,"y":771},{"c":2,"k":0,"x":18,"y":790},{"c":2,"k":0,"x":8.8,"y":830},{"c":2,"k":0,"x":21.9,"y":828},{"c":2,"k":0,"x":24.6,"y":857},{"c":2,"k":0,"x":13.9,"y":826},{"c":2,"k":0,"x":15.9,"y":842},{"c":2,"k":0,"x":25.1,"y":889},{"c":2,"k":0,"x":19,"y":889},{"c":2,"k":0,"x":9.3,"y":905},{"c":2,"k":0,"x":15.9,"y":897},{"c":2,"k":0,"x":18,"y":935},{"c":2,"k":0,"x":23.1,"y":947},{"c":2,"k":0,"x":13.9,"y":901},
{"c":2,"k":1,"x":10.3,"y":726},{"c":2,"k":1,"x":16.1,"y":771},{"c":2,"k":1,"x":11.3,"y":806},{"c":2,"k":1,"x":10.3,"y":817},{"c":2,"k":1,"x":17.1,"y":827},{"c":2,"k":1,"x":11,"y":834},{"c":2,"k":1,"x":5.2,"y":873},{"c":2,"k":1,"x":9.3,"y":876},{"c":2,"k":1,"x":10,"y":881},{"c":2,"k":1,"x":11.3,"y":888},{"c":2,"k":1,"x":12.3,"y":853},{"c":2,"k":1,"x":12.3,"y":870},{"c":2,"k":1,"x":15.1,"y":873},{"c":2,"k":1,"x":18.2,"y":861},{"c":2,"k":1,"x":21,"y":855},{"c":2,"k":1,"x":20.2,"y":880},{"c":2,"k":1,"x":21.5,"y":903},{"c":2,"k":1,"x":22.2,"y":906},{"c":2,"k":1,"x":13,"y":917},{"c":2,"k":1,"x":15.1,"y":921},{"c":2,"k":1,"x":17.1,"y":921},{"c":2,"k":1,"x":21,"y":933},
{"c":2,"k":2,"x":0,"y":749},{"c":2,"k":2,"x":29.2,"y":951},
{"c":3,"k":0,"x":11.1,"y":706},{"c":3,"k":0,"x":10.1,"y":771},{"c":3,"k":0,"x":18.8,"y":782},{"c":3,"k":0,"x":12.7,"y":805},{"c":3,"k":0,"x":7.6,"y":792},{"c":3,"k":0,"x":15.7,"y":813},{"c":3,"k":0,"x":23.9,"y":815},{"c":3,"k":0,"x":8.6,"y":822},{"c":3,"k":0,"x":19.6,"y":830},{"c":3,"k":0,"x":11.6,"y":834},{"c":3,"k":0,"x":5.5,"y":874},{"c":3,"k":0,"x":18.8,"y":859},{"c":3,"k":0,"x":21.8,"y":868},{"c":3,"k":0,"x":27,"y":876},{"c":3,"k":0,"x":12.7,"y":893},{"c":3,"k":0,"x":17.8,"y":905},{"c":3,"k":0,"x":10.1,"y":912},{"c":3,"k":0,"x":21.8,"y":930},{"c":3,"k":0,"x":27,"y":949},{"c":3,"k":0,"x":16.7,"y":922},
{"c":3,"k":1,"x":13.2,"y":764},{"c":3,"k":1,"x":17.2,"y":789},{"c":3,"k":1,"x":21,"y":825},{"c":3,"k":1,"x":24.1,"y":834},{"c":3,"k":1,"x":15.9,"y":852},{"c":3,"k":1,"x":18,"y":879},{"c":3,"k":1,"x":13.2,"y":882},{"c":3,"k":1,"x":15.2,"y":884},{"c":3,"k":1,"x":22,"y":895},{"c":3,"k":1,"x":26.1,"y":891},{"c":3,"k":1,"x":28,"y":907},{"c":3,"k":1,"x":15.2,"y":933},{"c":3,"k":1,"x":25.1,"y":938},{"c":3,"k":1,"x":26.1,"y":933},
{"c":3,"k":2,"x":0,"y":771},{"c":3,"k":2,"x":29.2,"y":921},
{"c":4,"k":0,"x":8.5,"y":704},{"c":4,"k":0,"x":19.7,"y":748},{"c":4,"k":0,"x":16.6,"y":796},{"c":4,"k":0,"x":7.5,"y":817},{"c":4,"k":0,"x":11,"y":826},{"c":4,"k":0,"x":19.7,"y":817},{"c":4,"k":0,"x":22.8,"y":817},{"c":4,"k":0,"x":6.4,"y":838},{"c":4,"k":0,"x":12.6,"y":859},{"c":4,"k":0,"x":18.7,"y":842},{"c":4,"k":0,"x":7.5,"y":876},{"c":4,"k":0,"x":12,"y":897},{"c":4,"k":0,"x":25.8,"y":893},{"c":4,"k":0,"x":27.9,"y":916},{"c":4,"k":0,"x":15.1,"y":918},{"c":4,"k":0,"x":23.8,"y":935},{"c":4,"k":0,"x":28.9,"y":956},{"c":4,"k":0,"x":15.6,"y":880},
{"c":4,"k":1,"x":10,"y":720},{"c":4,"k":1,"x":6.9,"y":750},{"c":4,"k":1,"x":8,"y":758},{"c":4,"k":1,"x":10,"y":760},{"c":4,"k":1,"x":9,"y":778},{"c":4,"k":1,"x":12,"y":785},{"c":4,"k":1,"x":14.1,"y":810},{"c":4,"k":1,"x":15.1,"y":810},{"c":4,"k":1,"x":12,"y":837},{"c":4,"k":1,"x":18.4,"y":860},{"c":4,"k":1,"x":16.7,"y":866},{"c":4,"k":1,"x":25.1,"y":875},{"c":4,"k":1,"x":9,"y":884},{"c":4,"k":1,"x":21.1,"y":884},{"c":4,"k":1,"x":17.7,"y":886},{"c":4,"k":1,"x":22.5,"y":895},{"c":4,"k":1,"x":16.7,"y":902},{"c":4,"k":1,"x":17.7,"y":917},{"c":4,"k":1,"x":18.7,"y":922},{"c":4,"k":1,"x":21.5,"y":921},{"c":4,"k":1,"x":18.4,"y":935},
{"c":4,"k":2,"x":0.1,"y":725},{"c":4,"k":2,"x":29.3,"y":951},
{"c":5,"k":0,"x":9.1,"y":708},{"c":5,"k":0,"x":12.1,"y":748},{"c":5,"k":0,"x":18.8,"y":767},{"c":5,"k":0,"x":12.7,"y":784},{"c":5,"k":0,"x":16.7,"y":790},{"c":5,"k":0,"x":10.6,"y":813},{"c":5,"k":0,"x":18.8,"y":813},{"c":5,"k":0,"x":14.7,"y":834},{"c":5,"k":0,"x":23.9,"y":859},{"c":5,"k":0,"x":20.8,"y":851},{"c":5,"k":0,"x":10.1,"y":859},{"c":5,"k":0,"x":13.7,"y":868},{"c":5,"k":0,"x":19.8,"y":868},{"c":5,"k":0,"x":25.9,"y":884},{"c":5,"k":0,"x":12.1,"y":901},{"c":5,"k":0,"x":18.8,"y":909},{"c":5,"k":0,"x":15.2,"y":935},{"c":5,"k":0,"x":21,"y":956},{"c":5,"k":0,"x":25.9,"y":893},{"c":5,"k":0,"x":17.2,"y":947},
{"c":5,"k":1,"x":9.1,"y":775},{"c":5,"k":1,"x":8.1,"y":791},{"c":5,"k":1,"x":9.1,"y":804},{"c":5,"k":1,"x":23.1,"y":825},{"c":5,"k":1,"x":13.9,"y":825},{"c":5,"k":1,"x":19,"y":873},{"c":5,"k":1,"x":16.9,"y":882},{"c":5,"k":1,"x":16.9,"y":899},{"c":5,"k":1,"x":14.9,"y":905},{"c":5,"k":1,"x":22,"y":920},{"c":5,"k":1,"x":21,"y":940},{"c":5,"k":1,"x":28,"y":935},
{"c":5,"k":2,"x":0,"y":739},{"c":5,"k":2,"x":29.2,"y":943},
{"c":6,"k":0,"x":7.9,"y":746},{"c":6,"k":0,"x":12,"y":746},{"c":6,"k":0,"x":8.9,"y":767},{"c":6,"k":0,"x":16.6,"y":771},{"c":6,"k":0,"x":14.6,"y":805},{"c":6,"k":0,"x":21.8,"y":792},{"c":6,"k":0,"x":5.9,"y":811},{"c":6,"k":0,"x":10.5,"y":834},{"c":6,"k":0,"x":18.7,"y":817},{"c":6,"k":0,"x":24.3,"y":817},{"c":6,"k":0,"x":24.8,"y":851},{"c":6,"k":0,"x":15.6,"y":859},{"c":6,"k":0,"x":12.5,"y":868},{"c":6,"k":0,"x":7.9,"y":889},{"c":6,"k":0,"x":18.7,"y":884},{"c":6,"k":0,"x":14.6,"y":909},{"c":6,"k":0,"x":19.7,"y":930},{"c":6,"k":0,"x":23.3,"y":951},{"c":6,"k":0,"x":27.4,"y":901},{"c":6,"k":0,"x":16.6,"y":926},
{"c":6,"k":1,"x":11,"y":787},{"c":6,"k":1,"x":13,"y":787},{"c":6,"k":1,"x":10,"y":804},{"c":6,"k":1,"x":7.9,"y":846},{"c":6,"k":1,"x":17.9,"y":854},{"c":6,"k":1,"x":23.8,"y":876},{"c":6,"k":1,"x":21.9,"y":903},{"c":6,"k":1,"x":21.8,"y":906},{"c":6,"k":1,"x":16.8,"y":913},{"c":6,"k":1,"x":18.9,"y":919},{"c":6,"k":1,"x":20.9,"y":928},{"c":6,"k":1,"x":24.8,"y":915},{"c":6,"k":1,"x":27.9,"y":919},{"c":6,"k":1,"x":23.8,"y":938},{"c":6,"k":1,"x":26.9,"y":937},
{"c":6,"k":2,"x":-0.2,"y":768},{"c":6,"k":2,"x":29,"y":930},
{"c":7,"k":0,"x":9.7,"y":754},{"c":7,"k":0,"x":13.8,"y":759},{"c":7,"k":0,"x":14.8,"y":780},{"c":7,"k":0,"x":19.4,"y":780},{"c":7,"k":0,"x":9.7,"y":792},{"c":7,"k":0,"x":7.6,"y":813},{"c":7,"k":0,"x":23.5,"y":828},{"c":7,"k":0,"x":11.7,"y":834},{"c":7,"k":0,"x":14.8,"y":847},{"c":7,"k":0,"x":24,"y":851},{"c":7,"k":0,"x":10.7,"y":868},{"c":7,"k":0,"x":17.9,"y":872},{"c":7,"k":0,"x":22,"y":884},{"c":7,"k":0,"x":15.8,"y":901},{"c":7,"k":0,"x":19.9,"y":909},{"c":7,"k":0,"x":25.6,"y":901},{"c":7,"k":0,"x":17.9,"y":930},{"c":7,"k":0,"x":10.7,"y":914},{"c":7,"k":0,"x":22.5,"y":918},
{"c":7,"k":1,"x":8.8,"y":766},{"c":7,"k":1,"x":16.6,"y":765},{"c":7,"k":1,"x":17.7,"y":818},{"c":7,"k":1,"x":19.6,"y":821},{"c":7,"k":1,"x":21.5,"y":846},{"c":7,"k":1,"x":21.5,"y":856},{"c":7,"k":1,"x":25.3,"y":851},{"c":7,"k":1,"x":13.8,"y":861},{"c":7,"k":1,"x":14.6,"y":893},{"c":7,"k":1,"x":12.7,"y":903},{"c":7,"k":1,"x":28.3,"y":912},{"c":7,"k":1,"x":24.5,"y":947},
{"c":7,"k":2,"x":-0.4,"y":762},{"c":7,"k":2,"x":28.6,"y":914},
{"c":8,"k":0,"x":9.9,"y":767},{"c":8,"k":0,"x":12.4,"y":790},{"c":8,"k":0,"x":6.8,"y":784},{"c":8,"k":0,"x":19.1,"y":778},{"c":8,"k":0,"x":21.7,"y":792},{"c":8,"k":0,"x":18.5,"y":813},{"c":8,"k":0,"x":8.8,"y":830},{"c":8,"k":0,"x":20.7,"y":826},{"c":8,"k":0,"x":25.3,"y":842},{"c":8,"k":0,"x":14,"y":868},{"c":8,"k":0,"x":7.8,"y":866},{"c":8,"k":0,"x":18.5,"y":859},{"c":8,"k":0,"x":22.6,"y":868},{"c":8,"k":0,"x":17,"y":889},{"c":8,"k":0,"x":19.1,"y":918},{"c":8,"k":0,"x":16,"y":939},{"c":8,"k":0,"x":26.8,"y":926},{"c":8,"k":0,"x":21.7,"y":951},
{"c":8,"k":1,"x":14,"y":796},{"c":8,"k":1,"x":9,"y":814},{"c":8,"k":1,"x":15,"y":834},{"c":8,"k":1,"x":14,"y":849},{"c":8,"k":1,"x":19.9,"y":838},{"c":8,"k":1,"x":25.8,"y":896},{"c":8,"k":1,"x":14,"y":898},{"c":8,"k":1,"x":15,"y":909},{"c":8,"k":1,"x":17,"y":914},{"c":8,"k":1,"x":25,"y":918},{"c":8,"k":1,"x":23,"y":930},{"c":8,"k":1,"x":14.5,"y":897},
{"c":8,"k":2,"x":0,"y":754},{"c":8,"k":2,"x":29.2,"y":930},
{"c":9,"k":0,"x":9.8,"y":773},{"c":9,"k":0,"x":12.5,"y":792},{"c":9,"k":0,"x":16.1,"y":792},{"c":9,"k":0,"x":21.3,"y":791},{"c":9,"k":0,"x":7.9,"y":801},{"c":9,"k":0,"x":7.3,"y":824},{"c":9,"k":0,"x":12,"y":826},{"c":9,"k":0,"x":22.7,"y":817},{"c":9,"k":0,"x":24.8,"y":840},{"c":9,"k":0,"x":14.9,"y":859},{"c":9,"k":0,"x":12,"y":851},{"c":9,"k":0,"x":14.9,"y":880},{"c":9,"k":0,"x":23.3,"y":884},{"c":9,"k":0,"x":25.9,"y":882},{"c":9,"k":0,"x":12,"y":909},{"c":9,"k":0,"x":15.1,"y":926},{"c":9,"k":0,"x":19.2,"y":943},{"c":9,"k":0,"x":28.4,"y":943},{"c":9,"k":0,"x":10.5,"y":926},
{"c":9,"k":1,"x":10.5,"y":787},{"c":9,"k":1,"x":14.6,"y":822},{"c":9,"k":1,"x":16.3,"y":810},{"c":9,"k":1,"x":18.2,"y":810},{"c":9,"k":1,"x":20.2,"y":834},{"c":9,"k":1,"x":6.7,"y":849},{"c":9,"k":1,"x":19.2,"y":852},{"c":9,"k":1,"x":22.1,"y":859},{"c":9,"k":1,"x":18.2,"y":870},{"c":9,"k":1,"x":21,"y":872},{"c":9,"k":1,"x":18.2,"y":885},{"c":9,"k":1,"x":19.2,"y":909},{"c":9,"k":1,"x":21,"y":930},{"c":9,"k":1,"x":21,"y":945},
{"c":9,"k":2,"x":-0.1,"y":733},{"c":9,"k":2,"x":27.9,"y":931},
{"c":10,"k":0,"x":9,"y":708},{"c":10,"k":0,"x":16,"y":782},{"c":10,"k":0,"x":19.3,"y":801},{"c":10,"k":0,"x":14.2,"y":803},{"c":10,"k":0,"x":17.2,"y":817},{"c":10,"k":0,"x":9,"y":813},{"c":10,"k":0,"x":4.9,"y":838},{"c":10,"k":0,"x":11.6,"y":838},{"c":10,"k":0,"x":11.1,"y":859},{"c":10,"k":0,"x":17.2,"y":872},{"c":10,"k":0,"x":22.4,"y":876},{"c":10,"k":0,"x":14.8,"y":872},{"c":10,"k":0,"x":28.5,"y":922},{"c":10,"k":0,"x":13.1,"y":935},{"c":10,"k":0,"x":18.3,"y":893},{"c":10,"k":0,"x":22.4,"y":922},
{"c":10,"k":1,"x":13.3,"y":790},{"c":10,"k":1,"x":18.8,"y":828},{"c":10,"k":1,"x":13.3,"y":830},{"c":10,"k":1,"x":17,"y":847},{"c":10,"k":1,"x":14.2,"y":853},{"c":10,"k":1,"x":23.2,"y":858},{"c":10,"k":1,"x":24.1,"y":867},{"c":10,"k":1,"x":15,"y":892},{"c":10,"k":1,"x":19.5,"y":896},{"c":10,"k":1,"x":20.5,"y":906},{"c":10,"k":1,"x":22.2,"y":912},{"c":10,"k":1,"x":24.1,"y":914},{"c":10,"k":1,"x":21.6,"y":931},{"c":10,"k":1,"x":24.1,"y":933},
{"c":10,"k":2,"x":-0.2,"y":716},{"c":10,"k":2,"x":26,"y":938},
{"c":1,"k":3,"t":"R=0.39"},{"c":2,"k":3,"t":"R=0.52"},{"c":3,"k":3,"t":"R=0.5"},{"c":4,"k":3,"t":"R=0.66"},{"c":5,"k":3,"t":"R=0.6"},{"c":6,"k":3,"t":"R=0.54"},{"c":7,"k":3,"t":"R=0.46"},{"c":8,"k":3,"t":"R=0.48"},{"c":9,"k":3,"t":"R=0.61"},{"c":10,"k":3,"t":"R=0.66"}
],
"d6":[
{"c":1,"k":0,"x":9,"y":220},{"c":1,"k":0,"x":4.9,"y":172},{"c":1,"k":0,"x":15.9,"y":159},{"c":1,"k":0,"x":21,"y":127},{"c":1,"k":0,"x":27.1,"y":114},{"c":1,"k":0,"x":22,"y":92},{"c":1,"k":0,"x":4.2,"y":-3},{"c":1,"k":0,"x":10,"y":-98},{"c":1,"k":0,"x":14.9,"y":2},{"c":1,"k":0,"x":18,"y":57},{"c":1,"k":0,"x":24.1,"y":44},{"c":1,"k":0,"x":7.8,"y":82},
{"c":1,"k":1,"x":9.3,"y":169},{"c":1,"k":1,"x":11,"y":173},{"c":1,"k":1,"x":13.1,"y":173},{"c":1,"k":1,"x":11.3,"y":150},{"c":1,"k":1,"x":7.2,"y":146},{"c":1,"k":1,"x":18,"y":137},{"c":1,"k":1,"x":5.2,"y":121},{"c":1,"k":1,"x":6.2,"y":105},{"c":1,"k":1,"x":10.8,"y":121},{"c":1,"k":1,"x":14.4,"y":113},{"c":1,"k":1,"x":15.9,"y":101},{"c":1,"k":1,"x":10.3,"y":95},{"c":1,"k":1,"x":12.9,"y":90},{"c":1,"k":1,"x":15.1,"y":85},{"c":1,"k":1,"x":16.4,"y":69},{"c":1,"k":1,"x":8.3,"y":63},{"c":1,"k":1,"x":10.8,"y":53},{"c":1,"k":1,"x":13.1,"y":49},{"c":1,"k":1,"x":18,"y":40},{"c":1,"k":1,"x":7.2,"y":31},{"c":1,"k":1,"x":10,"y":19},{"c":1,"k":1,"x":11.8,"y":28},{"c":1,"k":1,"x":14.1,"y":28},{"c":1,"k":1,"x":21,"y":47},{"c":1,"k":1,"x":20.2,"y":15},{"c":1,"k":1,"x":13.1,"y":-14},{"c":1,"k":1,"x":15.1,"y":-28},{"c":1,"k":1,"x":20,"y":-34},{"c":1,"k":1,"x":17.1,"y":18},
{"c":1,"k":2,"x":-0.2,"y":116},{"c":1,"k":2,"x":29.4,"y":42},
{"c":2,"k":0,"x":7.8,"y":249},{"c":2,"k":0,"x":12.9,"y":268},{"c":2,"k":0,"x":5.2,"y":185},{"c":2,"k":0,"x":13.9,"y":230},{"c":2,"k":0,"x":18,"y":198},{"c":2,"k":0,"x":7.8,"y":114},{"c":2,"k":0,"x":14.5,"y":153},{"c":2,"k":0,"x":19,"y":146},{"c":2,"k":0,"x":25.1,"y":159},{"c":2,"k":0,"x":22.6,"y":121},{"c":2,"k":0,"x":12.9,"y":63},{"c":2,"k":0,"x":16.9,"y":89},{"c":2,"k":0,"x":25.1,"y":89},{"c":2,"k":0,"x":13.9,"y":37},{"c":2,"k":0,"x":15.9,"y":12},{"c":2,"k":0,"x":25.1,"y":-5},{"c":2,"k":0,"x":7.8,"y":-17},{"c":2,"k":0,"x":19,"y":63},
{"c":2,"k":1,"x":16.1,"y":308},{"c":2,"k":1,"x":10,"y":274},{"c":2,"k":1,"x":11,"y":220},{"c":2,"k":1,"x":11,"y":193},{"c":2,"k":1,"x":15.9,"y":172},{"c":2,"k":1,"x":21,"y":162},{"c":2,"k":1,"x":5.2,"y":145},{"c":2,"k":1,"x":9,"y":139},{"c":2,"k":1,"x":13,"y":141},{"c":2,"k":1,"x":16.9,"y":118},{"c":2,"k":1,"x":11,"y":128},{"c":2,"k":1,"x":12,"y":109},{"c":2,"k":1,"x":10,"y":87},{"c":2,"k":1,"x":10,"y":71},{"c":2,"k":1,"x":15.1,"y":82},{"c":2,"k":1,"x":22,"y":53},{"c":2,"k":1,"x":17.1,"y":28},{"c":2,"k":1,"x":18.2,"y":32},{"c":2,"k":1,"x":20,"y":28},{"c":2,"k":1,"x":21,"y":31},
{"c":2,"k":2,"x":0,"y":238},{"c":2,"k":2,"x":29.2,"y":-5},
{"c":3,"k":0,"x":10.1,"y":262},{"c":3,"k":0,"x":11.6,"y":230},{"c":3,"k":0,"x":18.8,"y":211},{"c":3,"k":0,"x":23.9,"y":179},{"c":3,"k":0,"x":7.3,"y":121},{"c":3,"k":0,"x":11.6,"y":127},{"c":3,"k":0,"x":15.7,"y":140},{"c":3,"k":0,"x":9.6,"y":69},{"c":3,"k":0,"x":13.7,"y":82},{"c":3,"k":0,"x":18.8,"y":89},{"c":3,"k":0,"x":20.8,"y":57},{"c":3,"k":0,"x":7.6,"y":37},{"c":3,"k":0,"x":15.7,"y":2},{"c":3,"k":0,"x":20.8,"y":-1},{"c":3,"k":0,"x":27,"y":24},{"c":3,"k":0,"x":21.8,"y":-34},{"c":3,"k":0,"x":12.7,"y":50},
{"c":3,"k":1,"x":12.9,"y":278},{"c":3,"k":1,"x":16.9,"y":185},{"c":3,"k":1,"x":12.9,"y":143},{"c":3,"k":1,"x":15,"y":154},{"c":3,"k":1,"x":18,"y":130},{"c":3,"k":1,"x":26,"y":122},{"c":3,"k":1,"x":23.9,"y":113},{"c":3,"k":1,"x":15,"y":89},{"c":3,"k":1,"x":21.8,"y":108},{"c":3,"k":1,"x":24.9,"y":89},{"c":3,"k":1,"x":28,"y":69},{"c":3,"k":1,"x":15.9,"y":24},{"c":3,"k":1,"x":26,"y":-19},
{"c":3,"k":2,"x":0,"y":179},{"c":3,"k":2,"x":29.2,"y":47},
{"c":4,"k":0,"x":10.5,"y":249},{"c":4,"k":0,"x":14.6,"y":268},{"c":4,"k":0,"x":7.5,"y":211},{"c":4,"k":0,"x":12.6,"y":223},{"c":4,"k":0,"x":19.7,"y":140},{"c":4,"k":0,"x":7.5,"y":166},{"c":4,"k":0,"x":10.5,"y":153},{"c":4,"k":0,"x":23.8,"y":121},{"c":4,"k":0,"x":26.4,"y":101},{"c":4,"k":0,"x":28.9,"y":101},{"c":4,"k":0,"x":12.6,"y":114},{"c":4,"k":0,"x":15.6,"y":63},{"c":4,"k":0,"x":12,"y":63},{"c":4,"k":0,"x":18.7,"y":18},{"c":4,"k":0,"x":22.8,"y":24},{"c":4,"k":0,"x":27.9,"y":-5},{"c":4,"k":0,"x":15.6,"y":5},{"c":4,"k":0,"x":20.7,"y":-21},
{"c":4,"k":1,"x":9,"y":347},{"c":4,"k":1,"x":6.9,"y":285},{"c":4,"k":1,"x":9.7,"y":288},{"c":4,"k":1,"x":8,"y":257},{"c":4,"k":1,"x":9,"y":235},{"c":4,"k":1,"x":10,"y":235},{"c":4,"k":1,"x":12,"y":186},{"c":4,"k":1,"x":13.8,"y":193},{"c":4,"k":1,"x":15.1,"y":169},{"c":4,"k":1,"x":15.8,"y":166},{"c":4,"k":1,"x":12,"y":161},{"c":4,"k":1,"x":25.1,"y":101},{"c":4,"k":1,"x":18.4,"y":95},{"c":4,"k":1,"x":18.4,"y":79},{"c":4,"k":1,"x":9,"y":58},{"c":4,"k":1,"x":20.9,"y":76},{"c":4,"k":1,"x":20.9,"y":63},{"c":4,"k":1,"x":17.1,"y":40},{"c":4,"k":1,"x":22.5,"y":58},
{"c":4,"k":2,"x":0,"y":278},{"c":4,"k":2,"x":29.3,"y":-1},
{"c":5,"k":0,"x":9.6,"y":236},{"c":5,"k":0,"x":11.6,"y":246},{"c":5,"k":0,"x":18.8,"y":201},{"c":5,"k":0,"x":22.9,"y":185},{"c":5,"k":0,"x":12.1,"y":211},{"c":5,"k":0,"x":17.8,"y":134},{"c":5,"k":0,"x":9.6,"y":95},{"c":5,"k":0,"x":15.7,"y":121},{"c":5,"k":0,"x":20.8,"y":101},{"c":5,"k":0,"x":24.9,"y":114},{"c":5,"k":0,"x":13.7,"y":63},{"c":5,"k":0,"x":18.8,"y":69},{"c":5,"k":0,"x":25.9,"y":18},{"c":5,"k":0,"x":15.7,"y":5},{"c":5,"k":0,"x":18.3,"y":-8},{"c":5,"k":0,"x":21.8,"y":-1},{"c":5,"k":0,"x":12.1,"y":37},
{"c":5,"k":1,"x":9.1,"y":306},{"c":5,"k":1,"x":8.1,"y":169},{"c":5,"k":1,"x":9.1,"y":161},{"c":5,"k":1,"x":23.1,"y":128},{"c":5,"k":1,"x":14.9,"y":128},{"c":5,"k":1,"x":13.9,"y":111},{"c":5,"k":1,"x":19,"y":109},{"c":5,"k":1,"x":22,"y":89},{"c":5,"k":1,"x":16.9,"y":50},{"c":5,"k":1,"x":16.9,"y":39},{"c":5,"k":1,"x":21,"y":44},{"c":5,"k":1,"x":28,"y":57},
{"c":5,"k":2,"x":0,"y":252},{"c":5,"k":2,"x":29.2,"y":15},
{"c":6,"k":0,"x":8.9,"y":265},{"c":6,"k":0,"x":12,"y":275},{"c":6,"k":0,"x":15.6,"y":249},{"c":6,"k":0,"x":21.8,"y":288},{"c":6,"k":0,"x":10,"y":223},{"c":6,"k":0,"x":14.6,"y":211},{"c":6,"k":0,"x":18.7,"y":179},{"c":6,"k":0,"x":21.8,"y":179},{"c":6,"k":0,"x":5.9,"y":179},{"c":6,"k":0,"x":25.4,"y":140},{"c":6,"k":0,"x":12.5,"y":108},{"c":6,"k":0,"x":16.6,"y":140},{"c":6,"k":0,"x":27.9,"y":124},{"c":6,"k":0,"x":16.6,"y":69},{"c":6,"k":0,"x":19.7,"y":69},{"c":6,"k":0,"x":14.6,"y":37},{"c":6,"k":0,"x":17.7,"y":2},{"c":6,"k":0,"x":23.8,"y":-27},{"c":6,"k":0,"x":20.7,"y":-78},{"c":6,"k":0,"x":22.8,"y":89},
{"c":6,"k":1,"x":12.7,"y":172},{"c":6,"k":1,"x":10,"y":146},{"c":6,"k":1,"x":17.9,"y":124},{"c":6,"k":1,"x":21.8,"y":114},{"c":6,"k":1,"x":16.8,"y":95},{"c":6,"k":1,"x":18.7,"y":103},{"c":6,"k":1,"x":26.7,"y":100},{"c":6,"k":1,"x":10.7,"y":81},{"c":6,"k":1,"x":24.8,"y":73},{"c":6,"k":1,"x":23.8,"y":57},{"c":6,"k":1,"x":20.9,"y":39},{"c":6,"k":1,"x":21.9,"y":40},{"c":6,"k":1,"x":27.9,"y":45},{"c":6,"k":1,"x":23.8,"y":13},{"c":6,"k":1,"x":7.9,"y":32},
{"c":6,"k":2,"x":-0.2,"y":206},{"c":6,"k":2,"x":29,"y":37},
{"c":7,"k":0,"x":9.7,"y":217},{"c":7,"k":0,"x":13.8,"y":339},{"c":7,"k":0,"x":15.8,"y":198},{"c":7,"k":0,"x":10.7,"y":140},{"c":7,"k":0,"x":19.9,"y":146},{"c":7,"k":0,"x":24,"y":156},{"c":7,"k":0,"x":14.8,"y":101},{"c":7,"k":0,"x":17.9,"y":114},{"c":7,"k":0,"x":22.6,"y":121},{"c":7,"k":0,"x":28.1,"y":95},{"c":7,"k":0,"x":11.7,"y":69},{"c":7,"k":0,"x":19.9,"y":89},{"c":7,"k":0,"x":16.8,"y":57},{"c":7,"k":0,"x":22,"y":44},{"c":7,"k":0,"x":13.8,"y":18},{"c":7,"k":0,"x":17.9,"y":18},{"c":7,"k":0,"x":19.7,"y":-17},{"c":7,"k":0,"x":22.5,"y":-1},
{"c":7,"k":1,"x":8.8,"y":236},{"c":7,"k":1,"x":13.6,"y":184},{"c":7,"k":1,"x":16.6,"y":191},{"c":7,"k":1,"x":17.7,"y":175},{"c":7,"k":1,"x":21.5,"y":173},{"c":7,"k":1,"x":21.5,"y":124},{"c":7,"k":1,"x":25.3,"y":95},{"c":7,"k":1,"x":14.6,"y":81},{"c":7,"k":1,"x":12.7,"y":64},{"c":7,"k":1,"x":24.5,"y":71},{"c":7,"k":1,"x":19.6,"y":49},{"c":7,"k":1,"x":28.1,"y":-45},
{"c":7,"k":2,"x":-0.4,"y":231},{"c":7,"k":2,"x":28.6,"y":31},
{"c":8,"k":0,"x":9.3,"y":249},{"c":8,"k":0,"x":12.9,"y":243},{"c":8,"k":0,"x":10.9,"y":211},{"c":8,"k":0,"x":20.1,"y":198},{"c":8,"k":0,"x":23.2,"y":159},{"c":8,"k":0,"x":6.8,"y":172},{"c":8,"k":0,"x":18.1,"y":140},{"c":8,"k":0,"x":8.8,"y":76},{"c":8,"k":0,"x":16,"y":63},{"c":8,"k":0,"x":21.1,"y":95},{"c":8,"k":0,"x":17,"y":37},{"c":8,"k":0,"x":23.2,"y":69},{"c":8,"k":0,"x":21.1,"y":12},{"c":8,"k":0,"x":19.6,"y":-8},{"c":8,"k":0,"x":22.7,"y":-46},{"c":8,"k":0,"x":16,"y":-8},{"c":8,"k":0,"x":26.8,"y":69},
{"c":8,"k":1,"x":15,"y":216},{"c":8,"k":1,"x":14,"y":161},{"c":8,"k":1,"x":9,"y":126},{"c":8,"k":1,"x":14,"y":107},{"c":8,"k":1,"x":15,"y":109},{"c":8,"k":1,"x":17,"y":98},{"c":8,"k":1,"x":19.9,"y":89},{"c":8,"k":1,"x":25,"y":140},{"c":8,"k":1,"x":25,"y":108},{"c":8,"k":1,"x":14,"y":85},{"c":8,"k":1,"x":25.8,"y":40},{"c":8,"k":1,"x":23,"y":23},{"c":8,"k":1,"x":14,"y":-40},
{"c":8,"k":2,"x":0,"y":236},{"c":8,"k":2,"x":29.2,"y":28},
{"c":9,"k":0,"x":10.5,"y":281},{"c":9,"k":0,"x":19.2,"y":262},{"c":9,"k":0,"x":14.1,"y":243},{"c":9,"k":0,"x":25.4,"y":230},{"c":9,"k":0,"x":9.8,"y":198},{"c":9,"k":0,"x":7.3,"y":124},{"c":9,"k":0,"x":12,"y":134},{"c":9,"k":0,"x":16.1,"y":166},{"c":9,"k":0,"x":25.4,"y":121},{"c":9,"k":0,"x":14.9,"y":69},{"c":9,"k":0,"x":23.3,"y":82},{"c":9,"k":0,"x":28.4,"y":76},{"c":9,"k":0,"x":10.5,"y":44},{"c":9,"k":0,"x":14.9,"y":18},{"c":9,"k":0,"x":19.6,"y":5},{"c":9,"k":0,"x":23.7,"y":-1},{"c":9,"k":0,"x":20.2,"y":44},
{"c":9,"k":1,"x":10.5,"y":230},{"c":9,"k":1,"x":15.3,"y":235},{"c":9,"k":1,"x":6.7,"y":211},{"c":9,"k":1,"x":20,"y":188},{"c":9,"k":1,"x":19,"y":164},{"c":9,"k":1,"x":14.3,"y":141},{"c":9,"k":1,"x":18.2,"y":140},{"c":9,"k":1,"x":21,"y":124},{"c":9,"k":1,"x":16.1,"y":108},{"c":9,"k":1,"x":18.2,"y":103},{"c":9,"k":1,"x":18.2,"y":83},{"c":9,"k":1,"x":21,"y":85},{"c":9,"k":1,"x":22.1,"y":73},{"c":9,"k":1,"x":21,"y":-28},
{"c":9,"k":2,"x":-0.1,"y":227},{"c":9,"k":2,"x":27.9,"y":40},
{"c":10,"k":0,"x":11.1,"y":230},{"c":10,"k":0,"x":14.2,"y":236},{"c":10,"k":0,"x":14.2,"y":204},{"c":10,"k":0,"x":17.2,"y":204},{"c":10,"k":0,"x":4.9,"y":118},{"c":10,"k":0,"x":9,"y":134},{"c":10,"k":0,"x":11.1,"y":95},{"c":10,"k":0,"x":17.2,"y":153},{"c":10,"k":0,"x":10,"y":57},{"c":10,"k":0,"x":15.2,"y":63},{"c":10,"k":0,"x":19.3,"y":44},{"c":10,"k":0,"x":28.5,"y":21},{"c":10,"k":0,"x":15.2,"y":5},{"c":10,"k":0,"x":20.3,"y":5},{"c":10,"k":0,"x":16.2,"y":-8},{"c":10,"k":0,"x":18.3,"y":-85},{"c":10,"k":0,"x":22.4,"y":5},
{"c":10,"k":1,"x":13.3,"y":177},{"c":10,"k":1,"x":19.5,"y":153},{"c":10,"k":1,"x":20.3,"y":130},{"c":10,"k":1,"x":13.1,"y":127},{"c":10,"k":1,"x":14.2,"y":114},{"c":10,"k":1,"x":15,"y":92},{"c":10,"k":1,"x":16.7,"y":105},{"c":10,"k":1,"x":22.2,"y":108},{"c":10,"k":1,"x":24.1,"y":92},{"c":10,"k":1,"x":23.2,"y":89},{"c":10,"k":1,"x":18.5,"y":81},{"c":10,"k":1,"x":21.6,"y":60},{"c":10,"k":1,"x":24.1,"y":18},{"c":10,"k":1,"x":24.1,"y":8},
{"c":10,"k":2,"x":-0.2,"y":223},{"c":10,"k":2,"x":26,"y":42},
{"c":1,"k":3,"t":"R=-0.19"},{"c":2,"k":3,"t":"R=-0.51"},{"c":3,"k":3,"t":"R=-0.31"},{"c":4,"k":3,"t":"R=-0.64"},{"c":5,"k":3,"t":"R=-0.55"},{"c":6,"k":3,"t":"R=-0.38"},{"c":7,"k":3,"t":"R=-0.46"},{"c":8,"k":3,"t":"R=-0.42"},{"c":9,"k":3,"t":"R=-0.48"},{"c":10,"k":3,"t":"R=-0.39"}
],
"d7":[
{"c":1,"k":0,"x":14.9,"y":2846},{"c":1,"k":0,"x":19.8,"y":2769},{"c":1,"k":0,"x":8,"y":2499},{"c":1,"k":0,"x":15.4,"y":2460},{"c":1,"k":0,"x":20.8,"y":2259},{"c":1,"k":0,"x":5.9,"y":1901},{"c":1,"k":0,"x":15.9,"y":1997},{"c":1,"k":0,"x":16.4,"y":1631},{"c":1,"k":0,"x":7.3,"y":1515},{"c":1,"k":0,"x":27.1,"y":1554},{"c":1,"k":0,"x":7.8,"y":1168},{"c":1,"k":0,"x":6.7,"y":937},{"c":1,"k":0,"x":22,"y":956},{"c":1,"k":0,"x":16.4,"y":821},{"c":1,"k":0,"x":9.8,"y":455},{"c":1,"k":0,"x":3.7,"y":0},{"c":1,"k":0,"x":24.1,"y":0},{"c":1,"k":0,"x":17.4,"y":667},
{"c":1,"k":1,"x":10.8,"y":2634},{"c":1,"k":1,"x":13.9,"y":2587},{"c":1,"k":1,"x":5.9,"y":2325},{"c":1,"k":1,"x":11.8,"y":2395},{"c":1,"k":1,"x":7.8,"y":1920},{"c":1,"k":1,"x":6.9,"y":1882},{"c":1,"k":1,"x":10.8,"y":2055},{"c":1,"k":1,"x":14.9,"y":2132},{"c":1,"k":1,"x":10.8,"y":1778},{"c":1,"k":1,"x":13.9,"y":1727},{"c":1,"k":1,"x":6.9,"y":1670},{"c":1,"k":1,"x":4.9,"y":1573},{"c":1,"k":1,"x":10.8,"y":1508},{"c":1,"k":1,"x":12.9,"y":1477},{"c":1,"k":1,"x":15.9,"y":1458},{"c":1,"k":1,"x":10.8,"y":1392},{"c":1,"k":1,"x":20.8,"y":1342},{"c":1,"k":1,"x":9.8,"y":1323},{"c":1,"k":1,"x":12.9,"y":1284},{"c":1,"k":1,"x":15.9,"y":1226},{"c":1,"k":1,"x":18,"y":1207},{"c":1,"k":1,"x":14.9,"y":1014},{"c":1,"k":1,"x":18,"y":937},{"c":1,"k":1,"x":10.8,"y":937},{"c":1,"k":1,"x":11.8,"y":821},{"c":1,"k":1,"x":4.9,"y":598},{"c":1,"k":1,"x":10,"y":667},{"c":1,"k":1,"x":14.9,"y":686},{"c":1,"k":1,"x":16.9,"y":667},{"c":1,"k":1,"x":17.7,"y":551},{"c":1,"k":1,"x":19.8,"y":598},{"c":1,"k":1,"x":16.9,"y":455},{"c":1,"k":1,"x":13.1,"y":378},{"c":1,"k":1,"x":9,"y":289},{"c":1,"k":1,"x":7.8,"y":0},{"c":1,"k":1,"x":12.9,"y":0},{"c":1,"k":1,"x":14.4,"y":0},{"c":1,"k":1,"x":15.9,"y":0},{"c":1,"k":1,"x":19.8,"y":0},
{"c":1,"k":2,"x":-0.2,"y":1369},{"c":1,"k":2,"x":29.4,"y":1176},
{"c":2,"k":0,"x":9,"y":2730},{"c":2,"k":0,"x":20,"y":2865},{"c":2,"k":0,"x":20.5,"y":2672},{"c":2,"k":0,"x":15.9,"y":2576},{"c":2,"k":0,"x":7.8,"y":2171},{"c":2,"k":0,"x":11.8,"y":2210},{"c":2,"k":0,"x":15.9,"y":2248},{"c":2,"k":0,"x":19,"y":2075},{"c":2,"k":0,"x":13.9,"y":2017},{"c":2,"k":0,"x":22.6,"y":2017},{"c":2,"k":0,"x":6.7,"y":1824},{"c":2,"k":0,"x":10.8,"y":1554},{"c":2,"k":0,"x":13.9,"y":1708},{"c":2,"k":0,"x":16.9,"y":1631},{"c":2,"k":0,"x":9.8,"y":1361},{"c":2,"k":0,"x":19,"y":1554},{"c":2,"k":0,"x":15.9,"y":1091},{"c":2,"k":0,"x":18,"y":706},{"c":2,"k":0,"x":20,"y":513},{"c":2,"k":0,"x":24.6,"y":474},{"c":2,"k":0,"x":10.8,"y":339},{"c":2,"k":0,"x":24.6,"y":0},{"c":2,"k":0,"x":5.2,"y":1361},
{"c":2,"k":1,"x":20.8,"y":3000},{"c":2,"k":1,"x":14.9,"y":2846},{"c":2,"k":1,"x":11.8,"y":2672},{"c":2,"k":1,"x":14.9,"y":1909},{"c":2,"k":1,"x":16.9,"y":1909},{"c":2,"k":1,"x":20.8,"y":1862},{"c":2,"k":1,"x":10.8,"y":1708},{"c":2,"k":1,"x":9,"y":1496},{"c":2,"k":1,"x":21.8,"y":1303},{"c":2,"k":1,"x":10,"y":1245},{"c":2,"k":1,"x":12.9,"y":1207},{"c":2,"k":1,"x":10.8,"y":1130},{"c":2,"k":1,"x":4.9,"y":1122},{"c":2,"k":1,"x":12,"y":1033},{"c":2,"k":1,"x":20.8,"y":1091},{"c":2,"k":1,"x":9,"y":821},{"c":2,"k":1,"x":15.9,"y":821},{"c":2,"k":1,"x":15.9,"y":648},{"c":2,"k":1,"x":7,"y":590},{"c":2,"k":1,"x":10,"y":544},{"c":2,"k":1,"x":16.9,"y":0},{"c":2,"k":1,"x":19.8,"y":0},
{"c":2,"k":2,"x":0,"y":1785},{"c":2,"k":2,"x":29.2,"y":1245},
{"c":3,"k":0,"x":12.9,"y":3038},{"c":3,"k":0,"x":14.7,"y":2653},{"c":3,"k":0,"x":17.8,"y":2595},{"c":3,"k":0,"x":12.1,"y":2557},{"c":3,"k":0,"x":11.6,"y":2325},{"c":3,"k":0,"x":19.6,"y":2518},{"c":3,"k":0,"x":7.6,"y":2132},{"c":3,"k":0,"x":20.8,"y":2171},{"c":3,"k":0,"x":4.3,"y":1824},{"c":3,"k":0,"x":9.6,"y":1708},{"c":3,"k":0,"x":18.8,"y":1824},{"c":3,"k":0,"x":23.9,"y":1901},{"c":3,"k":0,"x":11.6,"y":1477},{"c":3,"k":0,"x":19.6,"y":1554},{"c":3,"k":0,"x":17.8,"y":1245},{"c":3,"k":0,"x":9.6,"y":1014},{"c":3,"k":0,"x":15.7,"y":1014},{"c":3,"k":0,"x":21.8,"y":1091},{"c":3,"k":0,"x":12.7,"y":551},{"c":3,"k":0,"x":18.8,"y":783},{"c":3,"k":0,"x":26.9,"y":860},{"c":3,"k":0,"x":27.4,"y":436},{"c":3,"k":0,"x":5.5,"y":1245},
{"c":3,"k":1,"x":14.7,"y":2460},{"c":3,"k":1,"x":17.8,"y":2152},{"c":3,"k":1,"x":25.7,"y":1940},{"c":3,"k":1,"x":12.7,"y":1824},{"c":3,"k":1,"x":16.7,"y":1843},{"c":3,"k":1,"x":14.7,"y":1508},{"c":3,"k":1,"x":21.6,"y":1342},{"c":3,"k":1,"x":12.7,"y":1176},{"c":3,"k":1,"x":23.9,"y":937},{"c":3,"k":1,"x":24.9,"y":918},{"c":3,"k":1,"x":20.8,"y":551},{"c":3,"k":1,"x":15.7,"y":0},{"c":3,"k":1,"x":25.7,"y":0},{"c":3,"k":1,"x":27.8,"y":0},
{"c":3,"k":2,"x":0,"y":2294},{"c":3,"k":2,"x":29.2,"y":1060},
{"c":4,"k":0,"x":15.6,"y":2595},{"c":4,"k":0,"x":18.7,"y":2672},{"c":4,"k":0,"x":10.5,"y":2518},{"c":4,"k":0,"x":18.7,"y":2171},{"c":4,"k":0,"x":12.6,"y":2210},{"c":4,"k":0,"x":23.8,"y":2055},{"c":4,"k":0,"x":7.4,"y":1862},{"c":4,"k":0,"x":19.6,"y":1785},{"c":4,"k":0,"x":6.4,"y":1400},{"c":4,"k":0,"x":13.6,"y":1477},{"c":4,"k":0,"x":25.8,"y":1631},{"c":4,"k":0,"x":22.8,"y":1323},{"c":4,"k":0,"x":10.5,"y":1091},{"c":4,"k":0,"x":14.6,"y":1168},{"c":4,"k":0,"x":18.7,"y":898},{"c":4,"k":0,"x":25.8,"y":706},{"c":4,"k":0,"x":16.6,"y":474},{"c":4,"k":0,"x":18.7,"y":397},{"c":4,"k":0,"x":28.9,"y":860},{"c":4,"k":0,"x":24.7,"y":0},{"c":4,"k":0,"x":20.7,"y":0},{"c":4,"k":0,"x":5.9,"y":1400},
{"c":4,"k":1,"x":9.7,"y":2749},{"c":4,"k":1,"x":18.7,"y":2718},{"c":4,"k":1,"x":15.6,"y":2317},{"c":4,"k":1,"x":14.8,"y":2217},{"c":4,"k":1,"x":8,"y":2036},{"c":4,"k":1,"x":13.8,"y":1862},{"c":4,"k":1,"x":9,"y":1727},{"c":4,"k":1,"x":11.7,"y":1689},{"c":4,"k":1,"x":20.7,"y":1600},{"c":4,"k":1,"x":17.9,"y":1438},{"c":4,"k":1,"x":15.9,"y":1361},{"c":4,"k":1,"x":6.9,"y":1161},{"c":4,"k":1,"x":11.7,"y":1168},{"c":4,"k":1,"x":20.7,"y":983},{"c":4,"k":1,"x":21.9,"y":937},{"c":4,"k":1,"x":24.5,"y":841},{"c":4,"k":1,"x":9.7,"y":763},{"c":4,"k":1,"x":16.8,"y":713},{"c":4,"k":1,"x":17.9,"y":752},{"c":4,"k":1,"x":9,"y":455},{"c":4,"k":1,"x":9.7,"y":212},{"c":4,"k":1,"x":9,"y":69},{"c":4,"k":1,"x":17.9,"y":0},
{"c":4,"k":2,"x":0,"y":1870},{"c":4,"k":2,"x":29.2,"y":983},
{"c":5,"k":0,"x":9.6,"y":3135},{"c":5,"k":0,"x":13.7,"y":2942},{"c":5,"k":0,"x":18.3,"y":2923},{"c":5,"k":0,"x":10.1,"y":2749},{"c":5,"k":0,"x":23.9,"y":2749},{"c":5,"k":0,"x":15.7,"y":2557},{"c":5,"k":0,"x":12.1,"y":2325},{"c":5,"k":0,"x":19.8,"y":2402},{"c":5,"k":0,"x":17.8,"y":2287},{"c":5,"k":0,"x":9.6,"y":2132},{"c":5,"k":0,"x":16.1,"y":2055},{"c":5,"k":0,"x":22.9,"y":1978},{"c":5,"k":0,"x":8.6,"y":1785},{"c":5,"k":0,"x":13.7,"y":1708},{"c":5,"k":0,"x":25.9,"y":1670},{"c":5,"k":0,"x":12.1,"y":1438},{"c":5,"k":0,"x":21.8,"y":1477},{"c":5,"k":0,"x":8.6,"y":1245},{"c":5,"k":0,"x":15.7,"y":1091},{"c":5,"k":0,"x":13.1,"y":1091},{"c":5,"k":0,"x":18.8,"y":898},{"c":5,"k":0,"x":25.9,"y":706},{"c":5,"k":0,"x":21.8,"y":551},{"c":5,"k":0,"x":19.3,"y":0},{"c":5,"k":0,"x":24.9,"y":0},
{"c":5,"k":1,"x":14.7,"y":2711},{"c":5,"k":1,"x":27.8,"y":2634},{"c":5,"k":1,"x":7.8,"y":2499},{"c":5,"k":1,"x":13.7,"y":2344},{"c":5,"k":1,"x":20.6,"y":1766},{"c":5,"k":1,"x":22.9,"y":1639},{"c":5,"k":1,"x":8.8,"y":1508},{"c":5,"k":1,"x":8.8,"y":1276},{"c":5,"k":1,"x":16.7,"y":1303},{"c":5,"k":1,"x":16.7,"y":1091},{"c":5,"k":1,"x":21.6,"y":783},{"c":5,"k":1,"x":18.8,"y":455},
{"c":5,"k":2,"x":0,"y":2410},{"c":5,"k":2,"x":29.2,"y":1033},
{"c":6,"k":0,"x":17.7,"y":3135},{"c":6,"k":0,"x":14.6,"y":2981},{"c":6,"k":0,"x":17.7,"y":2846},{"c":6,"k":0,"x":20.7,"y":2672},{"c":6,"k":0,"x":24.3,"y":2672},{"c":6,"k":0,"x":18.7,"y":2634},{"c":6,"k":0,"x":21.8,"y":2518},{"c":6,"k":0,"x":11.5,"y":2287},{"c":6,"k":0,"x":16.6,"y":2171},{"c":6,"k":0,"x":13.6,"y":2094},{"c":6,"k":0,"x":20.7,"y":2094},{"c":6,"k":0,"x":25.4,"y":1978},{"c":6,"k":0,"x":6.4,"y":1747},{"c":6,"k":0,"x":15.6,"y":1785},{"c":6,"k":0,"x":9.4,"y":1477},{"c":6,"k":0,"x":14.6,"y":1323},{"c":6,"k":0,"x":18.7,"y":1207},{"c":6,"k":0,"x":7.9,"y":1168},{"c":6,"k":0,"x":12.5,"y":937},{"c":6,"k":0,"x":16.6,"y":937},{"c":6,"k":0,"x":24.8,"y":783},{"c":6,"k":0,"x":17.1,"y":590},{"c":6,"k":0,"x":14.6,"y":455},{"c":6,"k":0,"x":20.7,"y":397},{"c":6,"k":0,"x":22.3,"y":281},{"c":6,"k":0,"x":24.3,"y":359},{"c":6,"k":0,"x":27.9,"y":860},
{"c":6,"k":1,"x":9.7,"y":2152},{"c":6,"k":1,"x":23.6,"y":2075},{"c":6,"k":1,"x":7.6,"y":1670},{"c":6,"k":1,"x":17.7,"y":1593},{"c":6,"k":1,"x":18.7,"y":1554},{"c":6,"k":1,"x":21.6,"y":1650},{"c":6,"k":1,"x":20.7,"y":1554},{"c":6,"k":1,"x":12.7,"y":1419},{"c":6,"k":1,"x":16.6,"y":1438},{"c":6,"k":1,"x":26.7,"y":1431},{"c":6,"k":1,"x":27.7,"y":1276},{"c":6,"k":1,"x":10.7,"y":1168},{"c":6,"k":1,"x":24.6,"y":1161},{"c":6,"k":1,"x":21.8,"y":0},{"c":6,"k":1,"x":23.6,"y":0},
{"c":6,"k":2,"x":-0.3,"y":2113},{"c":6,"k":2,"x":29,"y":968},
{"c":7,"k":0,"x":14.6,"y":3463},{"c":7,"k":0,"x":11.5,"y":2826},{"c":7,"k":0,"x":9.7,"y":2441},{"c":7,"k":0,"x":17.9,"y":2402},{"c":7,"k":0,"x":22,"y":2557},{"c":7,"k":0,"x":13.8,"y":2171},{"c":7,"k":0,"x":19.9,"y":2055},{"c":7,"k":0,"x":8.6,"y":2017},{"c":7,"k":0,"x":24.7,"y":1940},{"c":7,"k":0,"x":15.8,"y":1785},{"c":7,"k":0,"x":20.9,"y":1747},{"c":7,"k":0,"x":10.7,"y":1631},{"c":7,"k":0,"x":17.9,"y":1400},{"c":7,"k":0,"x":13.8,"y":1245},{"c":7,"k":0,"x":22.5,"y":1361},{"c":7,"k":0,"x":7.6,"y":976},{"c":7,"k":0,"x":19.9,"y":1014},{"c":7,"k":0,"x":17.9,"y":821},{"c":7,"k":0,"x":14.8,"y":937},{"c":7,"k":0,"x":22.5,"y":783},{"c":7,"k":0,"x":13.8,"y":590},{"c":7,"k":0,"x":19.4,"y":513},{"c":7,"k":0,"x":25,"y":629},{"c":7,"k":0,"x":18.4,"y":0},{"c":7,"k":0,"x":22.5,"y":0},
{"c":7,"k":1,"x":21.3,"y":2306},{"c":7,"k":1,"x":17.4,"y":2229},{"c":7,"k":1,"x":8.6,"y":1458},{"c":7,"k":1,"x":13.2,"y":1631},{"c":7,"k":1,"x":14.8,"y":1662},{"c":7,"k":1,"x":14.1,"y":1477},{"c":7,"k":1,"x":17.1,"y":1438},{"c":7,"k":1,"x":19.4,"y":1515},{"c":7,"k":1,"x":21.3,"y":1639},{"c":7,"k":1,"x":25.1,"y":1496},{"c":7,"k":1,"x":24.2,"y":1176},{"c":7,"k":1,"x":28.1,"y":0},
{"c":7,"k":2,"x":-0.4,"y":2422},{"c":7,"k":2,"x":28.6,"y":968},
{"c":8,"k":0,"x":9.9,"y":3077},{"c":8,"k":0,"x":14,"y":3058},{"c":8,"k":0,"x":16.8,"y":2904},{"c":8,"k":0,"x":18.6,"y":2749},{"c":8,"k":0,"x":24.8,"y":2306},{"c":8,"k":0,"x":19.1,"y":2171},{"c":8,"k":0,"x":21.2,"y":2017},{"c":8,"k":0,"x":6.8,"y":1978},{"c":8,"k":0,"x":11.9,"y":1824},{"c":8,"k":0,"x":18,"y":1862},{"c":8,"k":0,"x":23.7,"y":1708},{"c":8,"k":0,"x":20.1,"y":1554},{"c":8,"k":0,"x":6.8,"y":1207},{"c":8,"k":0,"x":11.9,"y":1400},{"c":8,"k":0,"x":22.2,"y":1323},{"c":8,"k":0,"x":9.9,"y":1014},{"c":8,"k":0,"x":17,"y":1014},{"c":8,"k":0,"x":21.2,"y":898},{"c":8,"k":0,"x":26.3,"y":783},{"c":8,"k":0,"x":17,"y":359},{"c":8,"k":0,"x":19.6,"y":397},{"c":8,"k":0,"x":23.2,"y":243},{"c":8,"k":0,"x":16,"y":0},
{"c":8,"k":1,"x":13.8,"y":2499},{"c":8,"k":1,"x":14.8,"y":1959},{"c":8,"k":1,"x":13.8,"y":1766},{"c":8,"k":1,"x":14.8,"y":1677},{"c":8,"k":1,"x":8.8,"y":1496},{"c":8,"k":1,"x":13.8,"y":1554},{"c":8,"k":1,"x":16.8,"y":1419},{"c":8,"k":1,"x":24.7,"y":1438},{"c":8,"k":1,"x":14.8,"y":1045},{"c":8,"k":1,"x":24.7,"y":983},{"c":8,"k":1,"x":19.7,"y":590},{"c":8,"k":1,"x":25.8,"y":405},{"c":8,"k":1,"x":9.9,"y":359},{"c":8,"k":1,"x":22.7,"y":0},
{"c":8,"k":2,"x":-0.4,"y":2075},{"c":8,"k":2,"x":29.2,"y":868},
{"c":9,"k":0,"x":7.4,"y":3058},{"c":9,"k":0,"x":13,"y":3173},{"c":9,"k":0,"x":20.7,"y":3058},{"c":9,"k":0,"x":16.1,"y":2884},{"c":9,"k":0,"x":9.4,"y":2826},{"c":9,"k":0,"x":19.1,"y":2402},{"c":9,"k":0,"x":23.8,"y":2383},{"c":9,"k":0,"x":9.4,"y":2402},{"c":9,"k":0,"x":12,"y":2055},{"c":9,"k":0,"x":22.3,"y":2055},{"c":9,"k":0,"x":14.9,"y":1862},{"c":9,"k":0,"x":10.5,"y":1708},{"c":9,"k":0,"x":23.4,"y":1631},{"c":9,"k":0,"x":28.4,"y":1477},{"c":9,"k":0,"x":14.9,"y":1245},{"c":9,"k":0,"x":7.4,"y":1245},{"c":9,"k":0,"x":24.8,"y":1014},{"c":9,"k":0,"x":28.4,"y":1014},{"c":9,"k":0,"x":14.1,"y":706},{"c":9,"k":0,"x":16.1,"y":860},{"c":9,"k":0,"x":23.8,"y":551},{"c":9,"k":0,"x":22.3,"y":0},{"c":9,"k":0,"x":17.1,"y":0},
{"c":9,"k":1,"x":15.1,"y":2217},{"c":9,"k":1,"x":20,"y":2113},{"c":9,"k":1,"x":6.4,"y":1909},{"c":9,"k":1,"x":18.9,"y":1870},{"c":9,"k":1,"x":18.9,"y":1639},{"c":9,"k":1,"x":21,"y":1554},{"c":9,"k":1,"x":14.1,"y":1508},{"c":9,"k":1,"x":22.1,"y":1400},{"c":9,"k":1,"x":10.5,"y":1380},{"c":9,"k":1,"x":17.9,"y":1292},{"c":9,"k":1,"x":21,"y":1188},{"c":9,"k":1,"x":16.1,"y":945},{"c":9,"k":1,"x":18.1,"y":929},{"c":9,"k":1,"x":21,"y":0},
{"c":9,"k":2,"x":-0.3,"y":2383},{"c":9,"k":2,"x":27.9,"y":1099},
{"c":10,"k":0,"x":11.1,"y":2711},{"c":10,"k":0,"x":17.2,"y":2730},{"c":10,"k":0,"x":21.1,"y":2711},{"c":10,"k":0,"x":14.2,"y":2402},{"c":10,"k":0,"x":17.2,"y":2479},{"c":10,"k":0,"x":4.9,"y":2113},{"c":10,"k":0,"x":14.2,"y":2171},{"c":10,"k":0,"x":22.4,"y":2132},{"c":10,"k":0,"x":11.1,"y":1824},{"c":10,"k":0,"x":16.2,"y":1940},{"c":10,"k":0,"x":9,"y":1515},{"c":10,"k":0,"x":11.1,"y":1284},{"c":10,"k":0,"x":19.3,"y":1361},{"c":10,"k":0,"x":25.4,"y":1477},{"c":10,"k":0,"x":21.4,"y":1168},{"c":10,"k":0,"x":8.5,"y":821},{"c":10,"k":0,"x":14.2,"y":783},{"c":10,"k":0,"x":22.4,"y":898},{"c":10,"k":0,"x":16.8,"y":590},{"c":10,"k":0,"x":18.3,"y":474},{"c":10,"k":0,"x":28.5,"y":0},{"c":10,"k":0,"x":12.1,"y":0},
{"c":10,"k":1,"x":15,"y":3270},{"c":10,"k":1,"x":14,"y":2641},{"c":10,"k":1,"x":19.3,"y":2287},{"c":10,"k":1,"x":20.3,"y":2036},{"c":10,"k":1,"x":18.5,"y":1882},{"c":10,"k":1,"x":15,"y":1766},{"c":10,"k":1,"x":22.2,"y":1554},{"c":10,"k":1,"x":24.1,"y":1554},{"c":10,"k":1,"x":12.9,"y":1496},{"c":10,"k":1,"x":13.1,"y":1226},{"c":10,"k":1,"x":22.9,"y":1168},{"c":10,"k":1,"x":16.4,"y":1060},{"c":10,"k":1,"x":23.9,"y":737},{"c":10,"k":1,"x":21.1,"y":312},
{"c":10,"k":2,"x":-0.4,"y":2075},{"c":10,"k":2,"x":26,"y":1303},
{"c":1,"k":3,"t":"R=-0.07"},{"c":2,"k":3,"t":"R=-0.11"},{"c":3,"k":3,"t":"R=-0.28"},{"c":4,"k":3,"t":"R=-0.22"},{"c":5,"k":3,"t":"R=-0.32"},{"c":6,"k":3,"t":"R=-0.28"},{"c":7,"k":3,"t":"R=-0.29"},{"c":8,"k":3,"t":"R=-0.3"},{"c":9,"k":3,"t":"R=-0.27"},{"c":10,"k":3,"t":"R=-0.15"}
]
},
"vconcat":[
{"data":{"name":"d1"},"title":{"text":"RH⁶⁰⁰₈₅₀","orient":"left","fontSize":68,"offset":37,"dx":-78,"anchor":"middle"},
"facet":{"column":{"field":"c","type":"ordinal","header":{"title":null,"labelPadding":22}}},"spacing":2,"bounds":"flush",
"spec":{"width":315,"height":322,
"encoding":{"x":{"field":"x","type":"quantitative","scale":{"domain":[-1.5,30],"nice":false,"zero":false},"axis":{"values":[0,20],"labels":false,"title":null}},
"y":{"field":"y","type":"quantitative","scale":{"domain":[40,95],"nice":false,"zero":false},"axis":{"values":[40,60,80],"format":"d","title":"(%)","titleY":195}}},
"layer":[
{"transform":[{"filter":"datum.k==0"}],"mark":{"type":"point","color":"#d3d3d3","clip":true}},
{"transform":[{"filter":"datum.k==1"}],"mark":{"type":"point","color":"#000080","clip":true}},
{"transform":[{"filter":"datum.k==2"}],"mark":{"type":"line","clip":true}},
{"transform":[{"filter":"datum.k==3"}],"mark":{"type":"text"},"encoding":{"x":{"datum":10.5},"y":{"datum":90},"text":{"field":"t"}}}]}},
{"spacing":20,"vconcat":[
{"spacing":-7,"vconcat":[
{"data":{"name":"d2"},"title":{"text":"TPW","orient":"left","fontSize":68,"offset":37,"dx":-21,"anchor":"middle"},
"facet":{"column":{"field":"c","type":"ordinal","header":{"title":null,"labels":false}}},"spacing":2,"bounds":"flush",
"spec":{"width":315,"height":322,
"encoding":{"x":{"field":"x","type":"quantitative","scale":{"domain":[-1.5,30],"nice":false,"zero":false},"axis":{"values":[0,20],"labels":false,"title":null}},
"y":{"field":"y","type":"quantitative","scale":{"domain":[40,65],"nice":false,"zero":false},"axis":{"values":[40,50,60],"format":"d","title":"( mm )","titleY":183}}},
"layer":[
{"transform":[{"filter":"datum.k==0"}],"mark":{"type":"point","color":"#d3d3d3","clip":true}},
{"transform":[{"filter":"datum.k==1"}],"mark":{"type":"point","color":"#000080","clip":true}},
{"transform":[{"filter":"datum.k==2"}],"mark":{"type":"line","clip":true}},
{"transform":[{"filter":"datum.k==3"}],"mark":{"type":"text"},"encoding":{"x":{"datum":10.5},"y":{"datum":62.75},"text":{"field":"t"}}}]}},
{"data":{"name":"d3"},"title":{"text":"HI","orient":"left","fontSize":68,"offset":37,"dx":21,"anchor":"middle"},
"facet":{"column":{"field":"c","type":"ordinal","header":{"title":null,"labels":false}}},"spacing":2,"bounds":"flush",
"spec":{"width":315,"height":322,
"encoding":{"x":{"field":"x","type":"quantitative","scale":{"domain":[-1.5,30],"nice":false,"zero":false},"axis":{"values":[0,20],"labels":false,"title":null}},
"y":{"field":"y","type":"quantitative","scale":{"domain":[0,20],"nice":false,"zero":false},"axis":{"values":[0,5,10,15,20],"format":"d","title":"(°C)","titleY":139}}},
"layer":[
{"transform":[{"filter":"datum.k==0"}],"mark":{"type":"point","color":"#d3d3d3","clip":true}},
{"transform":[{"filter":"datum.k==1"}],"mark":{"type":"point","color":"#000080","clip":true}},
{"transform":[{"filter":"datum.k==2"}],"mark":{"type":"line","clip":true}},
{"transform":[{"filter":"datum.k==3"}],"mark":{"type":"text"},"encoding":{"x":{"datum":10.5},"y":{"datum":18.2},"text":{"field":"t"}}}]}},
{"data":{"name":"d4"},"title":{"text":"LCL","orient":"left","fontSize":68,"offset":37,"dx":37,"anchor":"middle"},
"facet":{"column":{"field":"c","type":"ordinal","header":{"title":null,"labels":false}}},"spacing":2,"bounds":"flush",
"spec":{"width":315,"height":322,
"encoding":{"x":{"field":"x","type":"quantitative","scale":{"domain":[-1.5,30],"nice":false,"zero":false},"axis":{"values":[0,20],"labels":false,"title":null}},
"y":{"field":"y","type":"quantitative","scale":{"domain":[700,1000],"reverse":true,"nice":false,"zero":false},"axis":{"values":[700,800,900,1000],"format":"d","title":"( hPa)","titleY":104}}},
"layer":[
{"transform":[{"filter":"datum.k==0"}],"mark":{"type":"point","color":"#d3d3d3","clip":true}},
{"transform":[{"filter":"datum.k==1"}],"mark":{"type":"point","color":"#000080","clip":true}},
{"transform":[{"filter":"datum.k==2"}],"mark":{"type":"line","clip":true}},
{"transform":[{"filter":"datum.k==3"}],"mark":{"type":"text"},"encoding":{"x":{"datum":10.5},"y":{"datum":727},"text":{"field":"t"}}}]}},
{"data":{"name":"d5"},"title":{"text":"BLH","orient":"left","fontSize":68,"offset":37,"dx":0,"anchor":"middle"},
"facet":{"column":{"field":"c","type":"ordinal","header":{"title":null,"labels":false}}},"spacing":2,"bounds":"flush",
"spec":{"width":315,"height":322,
"encoding":{"x":{"field":"x","type":"quantitative","scale":{"domain":[-1.5,30],"nice":false,"zero":false},"axis":{"values":[0,20],"labels":false,"title":null}},
"y":{"field":"y","type":"quantitative","scale":{"domain":[700,1000],"reverse":true,"nice":false,"zero":false},"axis":{"values":[700,800,900,1000],"format":"d","title":"( hPa)","titleY":151}}},
"layer":[
{"transform":[{"filter":"datum.k==0"}],"mark":{"type":"point","color":"#d3d3d3","clip":true}},
{"transform":[{"filter":"datum.k==1"}],"mark":{"type":"point","color":"#000080","clip":true}},
{"transform":[{"filter":"datum.k==2"}],"mark":{"type":"line","clip":true}},
{"transform":[{"filter":"datum.k==3"}],"mark":{"type":"text"},"encoding":{"x":{"datum":10.5},"y":{"datum":727},"text":{"field":"t"}}}]}}
]},
{"spacing":24,"vconcat":[
{"data":{"name":"d6"},"title":{"text":"CTP","orient":"left","fontSize":68,"offset":37,"dx":10,"anchor":"middle"},
"facet":{"column":{"field":"c","type":"ordinal","header":{"title":null,"labels":false}}},"spacing":2,"bounds":"flush",
"spec":{"width":315,"height":322,
"encoding":{"x":{"field":"x","type":"quantitative","scale":{"domain":[-1.5,30],"nice":false,"zero":false},"axis":{"values":[0,20],"labels":false,"title":null}},
"y":{"field":"y","type":"quantitative","scale":{"domain":[-110,350],"nice":false,"zero":false},"axis":{"values":[0,200],"format":"d","title":"( J*kg⁻¹)","titleY":154}}},
"layer":[
{"transform":[{"filter":"datum.k==0"}],"mark":{"type":"point","color":"#d3d3d3","clip":true}},
{"transform":[{"filter":"datum.k==1"}],"mark":{"type":"point","color":"#000080","clip":true}},
{"transform":[{"filter":"datum.k==2"}],"mark":{"type":"line","clip":true}},
{"transform":[{"filter":"datum.k==3"}],"mark":{"type":"text"},"encoding":{"x":{"datum":10.5},"y":{"datum":308.6},"text":{"field":"t"}}}]}},
{"data":{"name":"d7"},"title":{"text":"CAPE","orient":"left","fontSize":68,"offset":37,"dx":0,"anchor":"middle"},
"facet":{"column":{"field":"c","type":"ordinal","header":{"title":"Soil moisture (vol%)","titleOrient":"bottom","labels":false,"titlePadding":45}}},"spacing":2,"bounds":"flush",
"spec":{"width":315,"height":322,
"encoding":{"x":{"field":"x","type":"quantitative","scale":{"domain":[-1.5,30],"nice":false,"zero":false},"axis":{"values":[0,20],"title":null}},
"y":{"field":"y","type":"quantitative","scale":{"domain":[0,3700],"nice":false,"zero":false},"axis":{"values":[0,1000,2000,3000],"format":"d","title":"( J )","titleY":145}}},
"layer":[
{"transform":[{"filter":"datum.k==0"}],"mark":{"type":"point","color":"#d3d3d3","clip":true}},
{"transform":[{"filter":"datum.k==1"}],"mark":{"type":"point","color":"#000080","clip":true}},
{"transform":[{"filter":"datum.k==2"}],"mark":{"type":"line","clip":true}},
{"transform":[{"filter":"datum.k==3"}],"mark":{"type":"text"},"encoding":{"x":{"datum":10.5},"y":{"datum":3367},"text":{"field":"t"}}}]}}
]}
]}
]
}
